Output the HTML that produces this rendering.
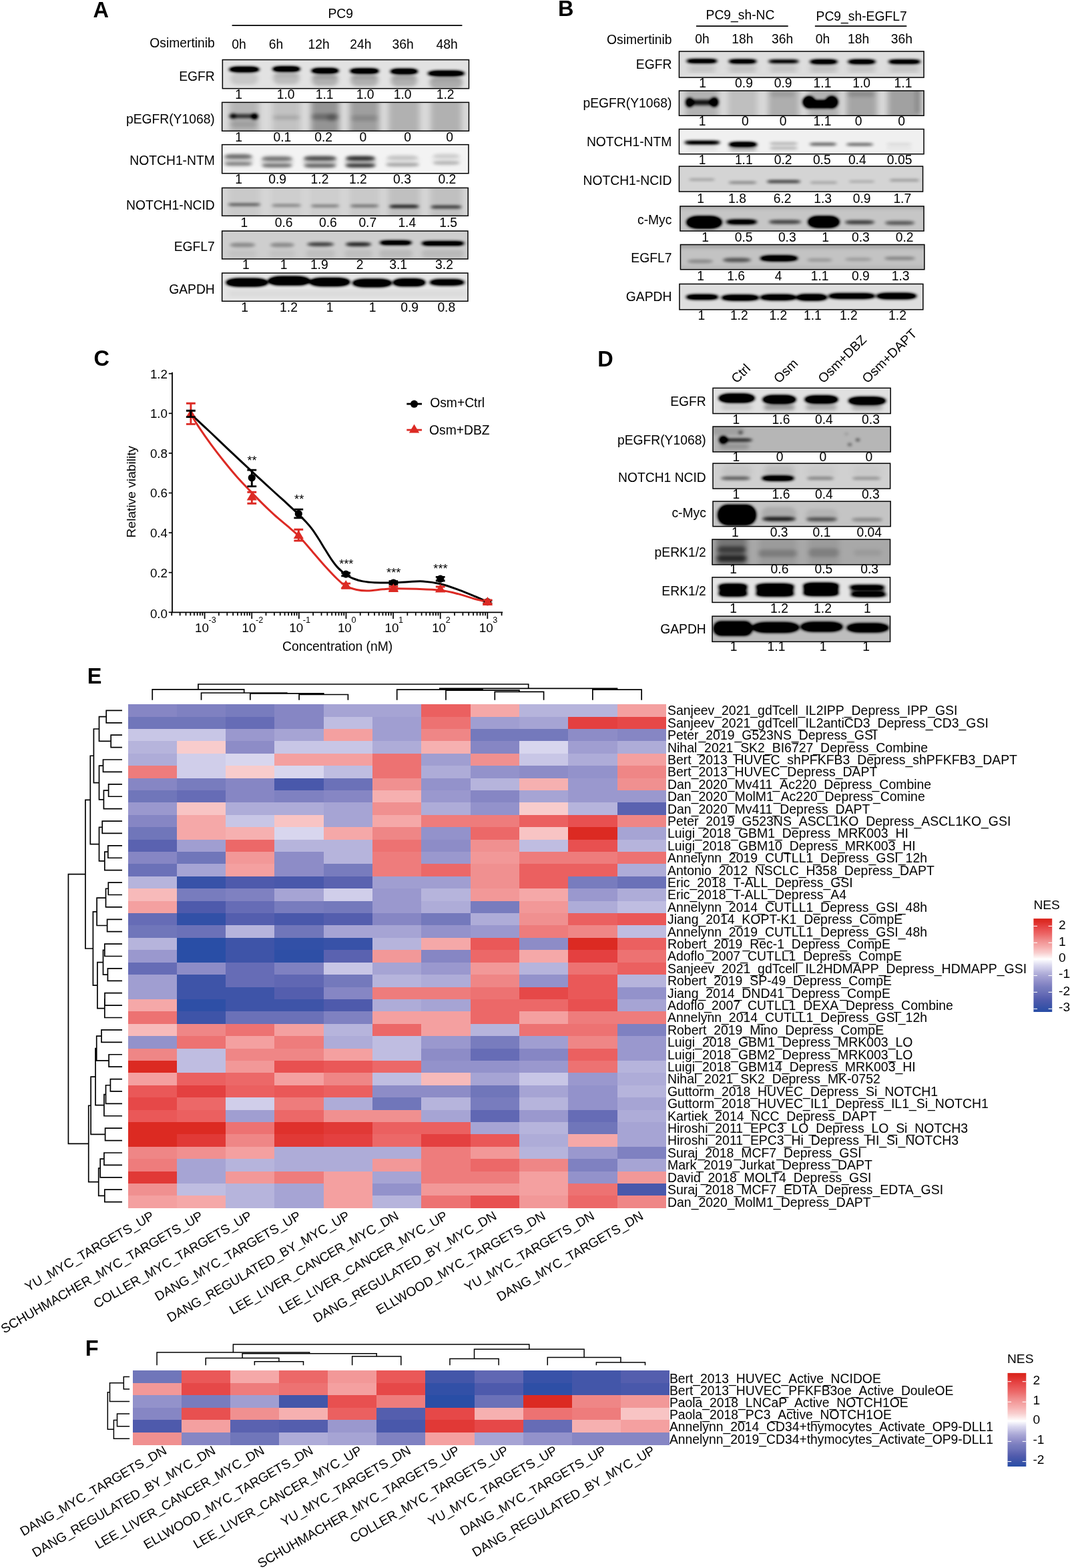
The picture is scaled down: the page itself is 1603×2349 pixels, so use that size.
<!DOCTYPE html>
<html lang="en"><head><meta charset="utf-8"><title>Figure</title>
<style>
html,body{margin:0;padding:0;background:#fff;}
body{width:1603px;height:2349px;overflow:hidden;}
svg{display:block;font-family:'Liberation Sans', sans-serif;fill:#000;}
</style></head>
<body>
<svg width="1603" height="2349" viewBox="0 0 1603 2349">
<rect width="1603" height="2349" fill="#fff"/>
<defs>
<filter id="bB" x="-20%" y="-60%" width="140%" height="220%"><feGaussianBlur stdDeviation="2.4 1.9"/><feComponentTransfer><feFuncA type="linear" slope="1.55"/></feComponentTransfer></filter>
<filter id="bM" x="-20%" y="-60%" width="140%" height="220%"><feGaussianBlur stdDeviation="3 2.4"/></filter>
<filter id="bS" x="-20%" y="-20%" width="140%" height="140%"><feGaussianBlur stdDeviation="4 4"/></filter>
</defs>
<text x="139.4" y="25.9" font-size="32.5" font-weight="bold">A</text>
<text x="510.2" y="27" font-size="19.3" text-anchor="middle">PC9</text>
<line x1="347.6" y1="38.2" x2="692.4" y2="38.2" stroke="#000" stroke-width="1.7"/>
<text x="321.8" y="71.1" font-size="19.3" text-anchor="end">Osimertinib</text>
<text x="358" y="73.3" font-size="19.3" text-anchor="middle">0h</text>
<text x="413.4" y="73.3" font-size="19.3" text-anchor="middle">6h</text>
<text x="477.6" y="73.3" font-size="19.3" text-anchor="middle">12h</text>
<text x="540.4" y="73.3" font-size="19.3" text-anchor="middle">24h</text>
<text x="603.7" y="73.3" font-size="19.3" text-anchor="middle">36h</text>
<text x="669.7" y="73.3" font-size="19.3" text-anchor="middle">48h</text>
<text x="321.8" y="120.6" font-size="19.3" text-anchor="end">EGFR</text>
<text x="321.8" y="184.6" font-size="19.3" text-anchor="end">pEGFR(Y1068)</text>
<text x="321.8" y="247.2" font-size="19.3" text-anchor="end">NOTCH1-NTM</text>
<text x="321.8" y="314.2" font-size="19.3" text-anchor="end">NOTCH1-NCID</text>
<text x="321.8" y="375.8" font-size="19.3" text-anchor="end">EGFL7</text>
<text x="321.8" y="440.4" font-size="19.3" text-anchor="end">GAPDH</text>
<clipPath id="c1"><rect x="333.35" y="89.55" width="369.1" height="43.1"/></clipPath>
<g clip-path="url(#c1)">
<rect x="333.35" y="89.55" width="369.1" height="43.1" fill="#e2e2e2"/>
<g filter="url(#bM)"><rect x="344.9" y="109" width="42" height="18" rx="9" ry="9" fill-opacity="0.12"/><rect x="409" y="108.4" width="40" height="18" rx="9" ry="9" fill-opacity="0.17"/><rect x="467" y="111" width="40" height="18" rx="9" ry="9" fill-opacity="0.22"/><rect x="525" y="111.4" width="42" height="18" rx="9" ry="9" fill-opacity="0.22"/><rect x="585.4" y="112" width="40" height="18" rx="9" ry="9" fill-opacity="0.22"/><rect x="643.4" y="115" width="50" height="18" rx="9" ry="9" fill-opacity="0.24"/><rect x="410" y="110.4" width="38" height="4" rx="2" ry="2" fill-opacity="0.1"/><rect x="468" y="113" width="38" height="4" rx="2" ry="2" fill-opacity="0.18"/><rect x="526" y="113.4" width="40" height="4" rx="2" ry="2" fill-opacity="0.18"/><rect x="586.4" y="114" width="38" height="4" rx="2" ry="2" fill-opacity="0.15"/><rect x="644.4" y="117" width="48" height="4" rx="2" ry="2" fill-opacity="0.1"/></g>
<g filter="url(#bB)"><rect x="343.15" y="100.35" width="45.5" height="7.3" rx="13.65" ry="3.65" fill-opacity="1"/><rect x="408.25" y="99.75" width="41.5" height="7.3" rx="12.45" ry="3.65" fill-opacity="1"/><rect x="466.25" y="102.35" width="41.5" height="7.3" rx="12.45" ry="3.65" fill-opacity="1"/><rect x="524.25" y="102.75" width="43.5" height="7.3" rx="13.05" ry="3.65" fill-opacity="1"/><rect x="584.65" y="103.35" width="41.5" height="7.3" rx="12.45" ry="3.65" fill-opacity="1"/><rect x="640.65" y="106.35" width="55.5" height="7.3" rx="16.06" ry="3.65" fill-opacity="1"/></g>
</g>
<rect x="333.35" y="89.55" width="369.1" height="43.1" fill="none" stroke="#000" stroke-width="1.5"/>
<text x="357.6" y="148.2" font-size="19.3" text-anchor="middle">1</text>
<text x="428.2" y="148.2" font-size="19.3" text-anchor="middle">1.0</text>
<text x="486.2" y="148.2" font-size="19.3" text-anchor="middle">1.1</text>
<text x="547.1" y="148.2" font-size="19.3" text-anchor="middle">1.0</text>
<text x="603.1" y="148.2" font-size="19.3" text-anchor="middle">1.0</text>
<text x="667.2" y="148.2" font-size="19.3" text-anchor="middle">1.2</text>
<clipPath id="c2"><rect x="332.65" y="153.35" width="369.8" height="42.9"/></clipPath>
<g clip-path="url(#c2)">
<rect x="332.65" y="153.35" width="369.8" height="42.9" fill="#dadada"/>
<g filter="url(#bS)"><rect x="343.9" y="115" width="44" height="120" rx="22" ry="22" fill-opacity="0.17"/><rect x="408" y="115" width="42" height="120" rx="21" ry="21" fill-opacity="0.11"/><rect x="466" y="115" width="42" height="120" rx="21" ry="21" fill-opacity="0.32"/><rect x="524" y="115" width="44" height="120" rx="22" ry="22" fill-opacity="0.27"/><rect x="582.4" y="115" width="46" height="120" rx="23" ry="23" fill-opacity="0.19"/><rect x="645.4" y="115" width="46" height="120" rx="23" ry="23" fill-opacity="0.19"/></g>
<g filter="url(#bM)"><rect x="345" y="181" width="40" height="10" rx="5" ry="5" fill-opacity="0.12"/><rect x="409" y="173" width="40" height="6" rx="3" ry="3" fill-opacity="0.14"/><rect x="467" y="170.5" width="40" height="9" rx="4.5" ry="4.5" fill-opacity="0.28"/><rect x="526" y="172.5" width="40" height="9" rx="4.5" ry="4.5" fill-opacity="0.14"/><rect x="490" y="170.5" width="14" height="11" rx="5.5" ry="5.5" fill-opacity="0.22"/></g>
<g filter="url(#bB)"><rect x="342.75" y="171.1" width="44.5" height="5.8" rx="12.76" ry="2.9" fill-opacity="0.5"/><circle cx="349" cy="174" r="4.4" fill-opacity="0.45"/><circle cx="381.5" cy="174.5" r="4.8" fill-opacity="0.7"/></g>
</g>
<rect x="332.65" y="153.35" width="369.8" height="42.9" fill="none" stroke="#000" stroke-width="1.5"/>
<text x="357.6" y="212" font-size="19.3" text-anchor="middle">1</text>
<text x="422.9" y="212" font-size="19.3" text-anchor="middle">0.1</text>
<text x="484.7" y="212" font-size="19.3" text-anchor="middle">0.2</text>
<text x="543.8" y="212" font-size="19.3" text-anchor="middle">0</text>
<text x="610.7" y="212" font-size="19.3" text-anchor="middle">0</text>
<text x="673.7" y="212" font-size="19.3" text-anchor="middle">0</text>
<clipPath id="c3"><rect x="332.65" y="216.65" width="369.3" height="43.1"/></clipPath>
<g clip-path="url(#c3)">
<rect x="332.65" y="216.65" width="369.3" height="43.1" fill="#f3f3f3"/>
<g filter="url(#bM)"><rect x="335" y="231" width="44" height="18" rx="9" ry="9" fill-opacity="0.14"/><rect x="391" y="233" width="48" height="18" rx="9" ry="9" fill-opacity="0.14"/><rect x="454.5" y="233" width="50" height="18" rx="9" ry="9" fill-opacity="0.18"/><rect x="517" y="233" width="46" height="18" rx="9" ry="9" fill-opacity="0.2"/><rect x="578" y="232" width="50" height="18" rx="9" ry="9" fill-opacity="0.05"/><rect x="646.7" y="230" width="44" height="18" rx="9" ry="9" fill-opacity="0.04"/></g>
<g filter="url(#bB)"><rect x="336.25" y="231.35" width="41.5" height="6.3" rx="12.45" ry="3.15" fill-opacity="0.32"/><rect x="392.25" y="234.65" width="45.5" height="6.3" rx="13.65" ry="3.15" fill-opacity="0.3"/><rect x="455.25" y="234.15" width="48.5" height="6.3" rx="13.86" ry="3.15" fill-opacity="0.42"/><rect x="518.25" y="234.15" width="43.5" height="6.3" rx="13.05" ry="3.15" fill-opacity="0.52"/><rect x="579.75" y="233.35" width="46.5" height="6.3" rx="13.86" ry="3.15" fill-opacity="0.1"/><rect x="648.45" y="230.85" width="40.5" height="6.3" rx="12.15" ry="3.15" fill-opacity="0.08"/><rect x="336.25" y="242.95" width="41.5" height="4.9" rx="10.78" ry="2.45" fill-opacity="0.28"/><rect x="392.25" y="245.55" width="45.5" height="4.9" rx="10.78" ry="2.45" fill-opacity="0.33"/><rect x="455.25" y="245.85" width="48.5" height="4.9" rx="10.78" ry="2.45" fill-opacity="0.37"/><rect x="517.25" y="245.55" width="45.5" height="4.9" rx="10.78" ry="2.45" fill-opacity="0.52"/><rect x="577.75" y="244.25" width="50.5" height="4.9" rx="10.78" ry="2.45" fill-opacity="0.2"/><rect x="648.45" y="241.55" width="40.5" height="4.9" rx="10.78" ry="2.45" fill-opacity="0.16"/></g>
</g>
<rect x="332.65" y="216.65" width="369.3" height="43.1" fill="none" stroke="#000" stroke-width="1.5"/>
<text x="357.6" y="275.1" font-size="19.3" text-anchor="middle">1</text>
<text x="415.6" y="275.1" font-size="19.3" text-anchor="middle">0.9</text>
<text x="479" y="275.1" font-size="19.3" text-anchor="middle">1.2</text>
<text x="536.4" y="275.1" font-size="19.3" text-anchor="middle">1.2</text>
<text x="602.5" y="275.1" font-size="19.3" text-anchor="middle">0.3</text>
<text x="669.8" y="275.1" font-size="19.3" text-anchor="middle">0.2</text>
<clipPath id="c4"><rect x="332.65" y="281.45" width="368.6" height="41.9"/></clipPath>
<g clip-path="url(#c4)">
<rect x="332.65" y="281.45" width="368.6" height="41.9" fill="#d6d6d6"/>
<g filter="url(#bS)"><rect x="341.9" y="242" width="48" height="120" rx="24" ry="24" fill-opacity="0.06"/><rect x="406" y="242" width="46" height="120" rx="23" ry="23" fill-opacity="0.04"/><rect x="464" y="242" width="46" height="120" rx="23" ry="23" fill-opacity="0.04"/><rect x="523" y="242" width="46" height="120" rx="23" ry="23" fill-opacity="0.06"/><rect x="581.4" y="242" width="48" height="120" rx="24" ry="24" fill-opacity="0.1"/><rect x="644.4" y="242" width="48" height="120" rx="24" ry="24" fill-opacity="0.1"/></g>
<g filter="url(#bB)"><rect x="341.65" y="304.9" width="48.5" height="3" rx="6.6" ry="1.5" fill-opacity="0.5"/><rect x="406.75" y="306.2" width="44.5" height="3" rx="6.6" ry="1.5" fill-opacity="0.33"/><rect x="465.75" y="306.9" width="42.5" height="3" rx="6.6" ry="1.5" fill-opacity="0.36"/><rect x="524.75" y="306.9" width="42.5" height="3" rx="6.6" ry="1.5" fill-opacity="0.4"/><rect x="583.15" y="307.5" width="44.5" height="3.4" rx="7.48" ry="1.7" fill-opacity="0.75"/><rect x="645.15" y="308.25" width="46.5" height="3.5" rx="7.7" ry="1.75" fill-opacity="0.62"/></g>
</g>
<rect x="332.65" y="281.45" width="368.6" height="41.9" fill="none" stroke="#000" stroke-width="1.5"/>
<text x="365.9" y="339.7" font-size="19.3" text-anchor="middle">1</text>
<text x="425.2" y="339.7" font-size="19.3" text-anchor="middle">0.6</text>
<text x="491.4" y="339.7" font-size="19.3" text-anchor="middle">0.6</text>
<text x="550.8" y="339.7" font-size="19.3" text-anchor="middle">0.7</text>
<text x="609.8" y="339.7" font-size="19.3" text-anchor="middle">1.4</text>
<text x="671.7" y="339.7" font-size="19.3" text-anchor="middle">1.5</text>
<clipPath id="c5"><rect x="332.65" y="346.05" width="368.3" height="41.9"/></clipPath>
<g clip-path="url(#c5)">
<rect x="332.65" y="346.05" width="368.3" height="41.9" fill="#cecece"/>
<g filter="url(#bM)"><rect x="341.4" y="374" width="44" height="12" rx="6" ry="6" fill-opacity="0.05"/><rect x="402.8" y="374" width="40" height="12" rx="6" ry="6" fill-opacity="0.05"/><rect x="458.2" y="374" width="44" height="12" rx="6" ry="6" fill-opacity="0.08"/><rect x="515.9" y="374" width="42" height="12" rx="6" ry="6" fill-opacity="0.08"/><rect x="567.9" y="374" width="50" height="12" rx="6" ry="6" fill-opacity="0.1"/><rect x="631.5" y="374" width="64" height="12" rx="6" ry="6" fill-opacity="0.1"/></g>
<g filter="url(#bB)"><rect x="344.15" y="363.85" width="38.5" height="6.3" rx="11.55" ry="3.15" fill-opacity="0.22"/><rect x="404.55" y="363.85" width="36.5" height="6.3" rx="10.95" ry="3.15" fill-opacity="0.22"/><rect x="459.95" y="363.35" width="40.5" height="5.3" rx="11.66" ry="2.65" fill-opacity="0.5"/><rect x="517.65" y="363.3" width="38.5" height="5.4" rx="11.55" ry="2.7" fill-opacity="0.6"/><rect x="568.65" y="360.7" width="48.5" height="5.8" rx="12.76" ry="2.9" fill-opacity="1"/><rect x="631.25" y="361.7" width="64.5" height="5.8" rx="12.76" ry="2.9" fill-opacity="1"/></g>
</g>
<rect x="332.65" y="346.05" width="368.3" height="41.9" fill="none" stroke="#000" stroke-width="1.5"/>
<text x="368.4" y="403.2" font-size="19.3" text-anchor="middle">1</text>
<text x="425.2" y="403.2" font-size="19.3" text-anchor="middle">1</text>
<text x="478.3" y="403.2" font-size="19.3" text-anchor="middle">1.9</text>
<text x="539" y="403.2" font-size="19.3" text-anchor="middle">2</text>
<text x="596.7" y="403.2" font-size="19.3" text-anchor="middle">3.1</text>
<text x="665.5" y="403.2" font-size="19.3" text-anchor="middle">3.2</text>
<clipPath id="c6"><rect x="332.65" y="409.05" width="368.3" height="42.2"/></clipPath>
<g clip-path="url(#c6)">
<rect x="332.65" y="409.05" width="368.3" height="42.2" fill="#e6e6e6"/>
<g filter="url(#bS)"><rect x="340" y="435" width="360" height="10" rx="5" ry="5" fill-opacity="0.06"/></g>
<g filter="url(#bB)"><rect x="338.75" y="417.3" width="62.5" height="11.8" rx="18.75" ry="5.9" fill-opacity="1"/><rect x="401.75" y="414.3" width="62.5" height="12.8" rx="18.75" ry="6.4" fill-opacity="1"/><rect x="463.75" y="416.6" width="60.5" height="11.8" rx="18.15" ry="5.9" fill-opacity="1"/><rect x="528.25" y="418.35" width="58.5" height="11.3" rx="17.55" ry="5.65" fill-opacity="1"/><rect x="588.75" y="417.8" width="48.5" height="10.8" rx="14.55" ry="5.4" fill-opacity="1"/><rect x="643.45" y="418.6" width="52.5" height="8.8" rx="15.75" ry="4.4" fill-opacity="0.9"/></g>
</g>
<rect x="332.65" y="409.05" width="368.3" height="42.2" fill="none" stroke="#000" stroke-width="1.5"/>
<text x="366.7" y="466.8" font-size="19.3" text-anchor="middle">1</text>
<text x="432.5" y="466.8" font-size="19.3" text-anchor="middle">1.2</text>
<text x="494" y="466.8" font-size="19.3" text-anchor="middle">1</text>
<text x="558.2" y="466.8" font-size="19.3" text-anchor="middle">1</text>
<text x="613.6" y="466.8" font-size="19.3" text-anchor="middle">0.9</text>
<text x="668.8" y="466.8" font-size="19.3" text-anchor="middle">0.8</text>
<text x="836" y="24" font-size="32.5" font-weight="bold">B</text>
<text x="1109" y="28.8" font-size="19.3" text-anchor="middle">PC9_sh-NC</text>
<text x="1290.6" y="30.8" font-size="19.3" text-anchor="middle">PC9_sh-EGFL7</text>
<line x1="1043" y1="39.2" x2="1180.7" y2="39.2" stroke="#000" stroke-width="1.7"/>
<line x1="1220.9" y1="39.2" x2="1358.3" y2="39.2" stroke="#000" stroke-width="1.7"/>
<text x="1006.6" y="65.8" font-size="19.3" text-anchor="end">Osimertinib</text>
<text x="1052" y="65" font-size="19.3" text-anchor="middle">0h</text>
<text x="1112.3" y="65" font-size="19.3" text-anchor="middle">18h</text>
<text x="1172.2" y="65" font-size="19.3" text-anchor="middle">36h</text>
<text x="1232.5" y="65" font-size="19.3" text-anchor="middle">0h</text>
<text x="1286.2" y="65" font-size="19.3" text-anchor="middle">18h</text>
<text x="1350.9" y="65" font-size="19.3" text-anchor="middle">36h</text>
<text x="1006.4" y="102.9" font-size="19.3" text-anchor="end">EGFR</text>
<text x="1006.4" y="160.9" font-size="19.3" text-anchor="end">pEGFR(Y1068)</text>
<text x="1006.4" y="219.4" font-size="19.3" text-anchor="end">NOTCH1-NTM</text>
<text x="1006.4" y="277.2" font-size="19.3" text-anchor="end">NOTCH1-NCID</text>
<text x="1006.4" y="336.4" font-size="19.3" text-anchor="end">c-Myc</text>
<text x="1006.4" y="393.2" font-size="19.3" text-anchor="end">EGFL7</text>
<text x="1006.4" y="451.2" font-size="19.3" text-anchor="end">GAPDH</text>
<clipPath id="c7"><rect x="1017.45" y="76.95" width="366.6" height="39.1"/></clipPath>
<g clip-path="url(#c7)">
<rect x="1017.45" y="76.95" width="366.6" height="39.1" fill="#dddddd"/>
<g filter="url(#bS)"><rect x="1030.5" y="98" width="42" height="10" rx="5" ry="5" fill-opacity="0.14"/><rect x="1091.6" y="98" width="42" height="10" rx="5" ry="5" fill-opacity="0.16"/><rect x="1153" y="98" width="42" height="10" rx="5" ry="5" fill-opacity="0.14"/><rect x="1213" y="98" width="42" height="10" rx="5" ry="5" fill-opacity="0.16"/><rect x="1270" y="98" width="42" height="10" rx="5" ry="5" fill-opacity="0.14"/><rect x="1332" y="98" width="46" height="10" rx="5" ry="5" fill-opacity="0.14"/></g>
<g filter="url(#bB)"><rect x="1028.25" y="88.8" width="46.5" height="5.4" rx="11.88" ry="2.7" fill-opacity="1"/><rect x="1091.35" y="89.3" width="42.5" height="5.4" rx="11.88" ry="2.7" fill-opacity="1"/><rect x="1150.75" y="89.8" width="46.5" height="4.4" rx="9.68" ry="2.2" fill-opacity="0.9"/><rect x="1212.75" y="89.6" width="42.5" height="5.8" rx="12.75" ry="2.9" fill-opacity="1"/><rect x="1269.75" y="89.6" width="42.5" height="5.8" rx="12.75" ry="2.9" fill-opacity="1"/><rect x="1330.75" y="89.8" width="48.5" height="5.4" rx="11.88" ry="2.7" fill-opacity="1"/></g>
</g>
<rect x="1017.45" y="76.95" width="366.6" height="39.1" fill="none" stroke="#000" stroke-width="1.5"/>
<text x="1052.5" y="130.6" font-size="19.3" text-anchor="middle">1</text>
<text x="1114.5" y="130.6" font-size="19.3" text-anchor="middle">0.9</text>
<text x="1173.1" y="130.6" font-size="19.3" text-anchor="middle">0.9</text>
<text x="1232" y="130.6" font-size="19.3" text-anchor="middle">1.1</text>
<text x="1290.7" y="130.6" font-size="19.3" text-anchor="middle">1.0</text>
<text x="1353" y="130.6" font-size="19.3" text-anchor="middle">1.1</text>
<clipPath id="c8"><rect x="1017.45" y="135.95" width="366.6" height="37.3"/></clipPath>
<g clip-path="url(#c8)">
<rect x="1017.45" y="135.95" width="366.6" height="37.3" fill="#d9d9d9"/>
<g filter="url(#bS)"><rect x="1026.5" y="95" width="50" height="120" rx="25" ry="25" fill-opacity="0.18"/><rect x="1090.6" y="95" width="44" height="120" rx="22" ry="22" fill-opacity="0.12"/><rect x="1151" y="95" width="46" height="120" rx="23" ry="23" fill-opacity="0.2"/><rect x="1211" y="95" width="46" height="120" rx="23" ry="23" fill-opacity="0.18"/><rect x="1268" y="95" width="46" height="120" rx="23" ry="23" fill-opacity="0.24"/><rect x="1330" y="95" width="50" height="120" rx="25" ry="25" fill-opacity="0.26"/></g>
<g filter="url(#bM)"><rect x="1270" y="137" width="40" height="8" rx="4" ry="4" fill-opacity="0.15"/><rect x="1371" y="130" width="8" height="40" rx="4" ry="4" fill-opacity="0.15"/><rect x="1154" y="137" width="36" height="8" rx="4" ry="4" fill-opacity="0.1"/></g>
<g filter="url(#bB)"><rect x="1029.25" y="149.6" width="44.5" height="7.8" rx="13.35" ry="3.9" fill-opacity="0.6"/><rect x="1027.75" y="146.6" width="10.5" height="13.8" rx="6" ry="6" fill-opacity="0.9"/><rect x="1064.25" y="146.1" width="11.5" height="13.8" rx="6" ry="6" fill-opacity="0.9"/><rect x="1209.75" y="150.6" width="38.5" height="8.8" rx="11.55" ry="4.4" fill-opacity="1"/><circle cx="1212" cy="153" r="9" fill-opacity="1"/><circle cx="1246" cy="153" r="9" fill-opacity="1"/><rect x="1206.75" y="155.6" width="44.5" height="5.8" rx="12.76" ry="2.9" fill-opacity="1"/></g>
</g>
<rect x="1017.45" y="135.95" width="366.6" height="37.3" fill="none" stroke="#000" stroke-width="1.5"/>
<text x="1052" y="187.8" font-size="19.3" text-anchor="middle">1</text>
<text x="1116.3" y="187.8" font-size="19.3" text-anchor="middle">0</text>
<text x="1173.1" y="187.8" font-size="19.3" text-anchor="middle">0</text>
<text x="1232" y="187.8" font-size="19.3" text-anchor="middle">1.1</text>
<text x="1286.2" y="187.8" font-size="19.3" text-anchor="middle">0</text>
<text x="1350.5" y="187.8" font-size="19.3" text-anchor="middle">0</text>
<clipPath id="c9"><rect x="1017.45" y="193.45" width="366.6" height="37.3"/></clipPath>
<g clip-path="url(#c9)">
<rect x="1017.45" y="193.45" width="366.6" height="37.3" fill="#f0f0f0"/>
<g filter="url(#bM)"><rect x="1093" y="220" width="40" height="6" rx="3" ry="3" fill-opacity="0.3"/><rect x="1030" y="219" width="44" height="6" rx="3" ry="3" fill-opacity="0.08"/></g>
<g filter="url(#bB)"><rect x="1025.25" y="211.15" width="53.5" height="4.9" rx="10.78" ry="2.45" fill-opacity="0.9"/><rect x="1091.75" y="213" width="42.5" height="6.8" rx="12.75" ry="3.4" fill-opacity="0.97"/><rect x="1152.75" y="213.5" width="42.5" height="3" rx="6.6" ry="1.5" fill-opacity="0.24"/><rect x="1152.75" y="220.5" width="42.5" height="3" rx="6.6" ry="1.5" fill-opacity="0.24"/><rect x="1212.75" y="214.3" width="40.5" height="3.4" rx="7.48" ry="1.7" fill-opacity="0.5"/><rect x="1267.75" y="214.7" width="40.5" height="3.4" rx="7.48" ry="1.7" fill-opacity="0.5"/><rect x="1327.75" y="214.5" width="38.5" height="3" rx="6.6" ry="1.5" fill-opacity="0.09"/><rect x="1327.75" y="221" width="38.5" height="2" rx="4.4" ry="1" fill-opacity="0.07"/></g>
</g>
<rect x="1017.45" y="193.45" width="366.6" height="37.3" fill="none" stroke="#000" stroke-width="1.5"/>
<text x="1052" y="246.1" font-size="19.3" text-anchor="middle">1</text>
<text x="1114.3" y="246.1" font-size="19.3" text-anchor="middle">1.1</text>
<text x="1173.1" y="246.1" font-size="19.3" text-anchor="middle">0.2</text>
<text x="1231.3" y="246.1" font-size="19.3" text-anchor="middle">0.5</text>
<text x="1284.3" y="246.1" font-size="19.3" text-anchor="middle">0.4</text>
<text x="1347.6" y="246.1" font-size="19.3" text-anchor="middle">0.05</text>
<clipPath id="c10"><rect x="1017.45" y="249.15" width="365.1" height="37.9"/></clipPath>
<g clip-path="url(#c10)">
<rect x="1017.45" y="249.15" width="365.1" height="37.9" fill="#d4d4d4"/>
<g filter="url(#bB)"><rect x="1032.25" y="267.75" width="38.5" height="2.5" rx="5.5" ry="1.25" fill-opacity="0.24"/><rect x="1091.35" y="272" width="42.5" height="3" rx="6.6" ry="1.5" fill-opacity="0.32"/><rect x="1148.75" y="270.25" width="50.5" height="3.5" rx="7.7" ry="1.75" fill-opacity="0.6"/><rect x="1213.75" y="272.25" width="40.5" height="2.5" rx="5.5" ry="1.25" fill-opacity="0.24"/><rect x="1271.75" y="270.75" width="38.5" height="2.5" rx="5.5" ry="1.25" fill-opacity="0.2"/><rect x="1332.75" y="268.75" width="44.5" height="2.5" rx="5.5" ry="1.25" fill-opacity="0.28"/></g>
</g>
<rect x="1017.45" y="249.15" width="365.1" height="37.9" fill="none" stroke="#000" stroke-width="1.5"/>
<text x="1049.5" y="303.8" font-size="19.3" text-anchor="middle">1</text>
<text x="1104.5" y="303.8" font-size="19.3" text-anchor="middle">1.8</text>
<text x="1172.2" y="303.8" font-size="19.3" text-anchor="middle">6.2</text>
<text x="1232.6" y="303.8" font-size="19.3" text-anchor="middle">1.3</text>
<text x="1291.1" y="303.8" font-size="19.3" text-anchor="middle">0.9</text>
<text x="1351.8" y="303.8" font-size="19.3" text-anchor="middle">1.7</text>
<clipPath id="c11"><rect x="1018.95" y="308.95" width="365.1" height="37.1"/></clipPath>
<g clip-path="url(#c11)">
<rect x="1018.95" y="308.95" width="365.1" height="37.1" fill="#c6c6c6"/>
<g filter="url(#bM)"><rect x="1010" y="305" width="380" height="8" rx="4" ry="4" fill-opacity="0.12"/></g>
<g filter="url(#bB)"><rect x="1028.75" y="324.1" width="52.5" height="17.8" rx="15.75" ry="8.9" fill-opacity="1"/><rect x="1087.75" y="329.1" width="46.5" height="6.8" rx="13.95" ry="3.4" fill-opacity="0.85"/><rect x="1151.75" y="329.8" width="48.5" height="5.4" rx="11.88" ry="2.7" fill-opacity="0.48"/><rect x="1210.75" y="324.1" width="46.5" height="16.8" rx="13.95" ry="8.4" fill-opacity="1"/><rect x="1265.75" y="330.3" width="44.5" height="5.4" rx="11.88" ry="2.7" fill-opacity="0.5"/><rect x="1325.75" y="331.3" width="44.5" height="5.4" rx="11.88" ry="2.7" fill-opacity="0.4"/></g>
</g>
<rect x="1018.95" y="308.95" width="365.1" height="37.1" fill="none" stroke="#000" stroke-width="1.5"/>
<text x="1056.6" y="361.8" font-size="19.3" text-anchor="middle">1</text>
<text x="1114.2" y="361.8" font-size="19.3" text-anchor="middle">0.5</text>
<text x="1179.3" y="361.8" font-size="19.3" text-anchor="middle">0.3</text>
<text x="1236.5" y="361.8" font-size="19.3" text-anchor="middle">1</text>
<text x="1289.4" y="361.8" font-size="19.3" text-anchor="middle">0.3</text>
<text x="1355.2" y="361.8" font-size="19.3" text-anchor="middle">0.2</text>
<clipPath id="c12"><rect x="1019.45" y="366.45" width="365.4" height="37.3"/></clipPath>
<g clip-path="url(#c12)">
<rect x="1019.45" y="366.45" width="365.4" height="37.3" fill="#c3c3c3"/>
<g filter="url(#bM)"><rect x="1010" y="362" width="380" height="10" rx="5" ry="5" fill-opacity="0.16"/><rect x="1010" y="399" width="380" height="6" rx="3" ry="3" fill-opacity="0.08"/></g>
<g filter="url(#bB)"><rect x="1029.75" y="388.8" width="38.5" height="5.4" rx="11.55" ry="2.7" fill-opacity="0.2"/><rect x="1082.75" y="386.6" width="42.5" height="5.8" rx="12.75" ry="2.9" fill-opacity="0.4"/><rect x="1138.75" y="383.1" width="56.5" height="7.8" rx="16.95" ry="3.9" fill-opacity="1"/><rect x="1208.75" y="387.3" width="38.5" height="4.4" rx="9.68" ry="2.2" fill-opacity="0.17"/><rect x="1265.75" y="386.3" width="40.5" height="4.4" rx="9.68" ry="2.2" fill-opacity="0.15"/><rect x="1324.75" y="384.8" width="46.5" height="4.4" rx="9.68" ry="2.2" fill-opacity="0.24"/></g>
</g>
<rect x="1019.45" y="366.45" width="365.4" height="37.3" fill="none" stroke="#000" stroke-width="1.5"/>
<text x="1049.5" y="419.9" font-size="19.3" text-anchor="middle">1</text>
<text x="1102.7" y="419.9" font-size="19.3" text-anchor="middle">1.6</text>
<text x="1166" y="419.9" font-size="19.3" text-anchor="middle">4</text>
<text x="1228.2" y="419.9" font-size="19.3" text-anchor="middle">1.1</text>
<text x="1289.4" y="419.9" font-size="19.3" text-anchor="middle">0.9</text>
<text x="1349.1" y="419.9" font-size="19.3" text-anchor="middle">1.3</text>
<clipPath id="c13"><rect x="1017.95" y="425.45" width="364.9" height="38.4"/></clipPath>
<g clip-path="url(#c13)">
<rect x="1017.95" y="425.45" width="364.9" height="38.4" fill="#dedede"/>
<g filter="url(#bB)"><rect x="1027.75" y="441.6" width="48.5" height="6.8" rx="14.55" ry="3.4" fill-opacity="1"/><rect x="1080.75" y="442.1" width="56.5" height="7.8" rx="16.95" ry="3.9" fill-opacity="1"/><rect x="1138.75" y="441.6" width="54.5" height="7.8" rx="16.35" ry="3.9" fill-opacity="1"/><rect x="1192.75" y="441.1" width="46.5" height="8.8" rx="13.95" ry="4.4" fill-opacity="1"/><rect x="1240.75" y="439.85" width="70.5" height="7.3" rx="16.06" ry="3.65" fill-opacity="1"/><rect x="1312.75" y="439.35" width="60.5" height="8.3" rx="18.15" ry="4.15" fill-opacity="1"/></g>
</g>
<rect x="1017.95" y="425.45" width="364.9" height="38.4" fill="none" stroke="#000" stroke-width="1.5"/>
<text x="1050.8" y="478.6" font-size="19.3" text-anchor="middle">1</text>
<text x="1107.3" y="478.6" font-size="19.3" text-anchor="middle">1.2</text>
<text x="1165.8" y="478.6" font-size="19.3" text-anchor="middle">1.2</text>
<text x="1217.4" y="478.6" font-size="19.3" text-anchor="middle">1.1</text>
<text x="1271.3" y="478.6" font-size="19.3" text-anchor="middle">1.2</text>
<text x="1344.5" y="478.6" font-size="19.3" text-anchor="middle">1.2</text>
<text x="895.2" y="549.4" font-size="32.5" font-weight="bold">D</text>
<text font-size="19.7" transform="translate(1103.5 575) rotate(-44.5)">Ctrl</text>
<text font-size="19.7" transform="translate(1167 575) rotate(-44.5)">Osm</text>
<text font-size="19.7" transform="translate(1233.5 575) rotate(-44.5)">Osm+DBZ</text>
<text font-size="19.7" transform="translate(1299.5 575) rotate(-44.5)">Osm+DAPT</text>
<text x="1057.8" y="608.3" font-size="19.3" text-anchor="end">EGFR</text>
<text x="1057.8" y="666" font-size="19.3" text-anchor="end">pEGFR(Y1068)</text>
<text x="1057.8" y="721.8" font-size="19.3" text-anchor="end">NOTCH1 NCID</text>
<text x="1057.8" y="775.2" font-size="19.3" text-anchor="end">c-Myc</text>
<text x="1057.8" y="833.5" font-size="19.3" text-anchor="end">pERK1/2</text>
<text x="1057.8" y="891.8" font-size="19.3" text-anchor="end">ERK1/2</text>
<text x="1057.8" y="948.6" font-size="19.3" text-anchor="end">GAPDH</text>
<clipPath id="c14"><rect x="1068.05" y="581.35" width="266.1" height="38.2"/></clipPath>
<g clip-path="url(#c14)">
<rect x="1068.05" y="581.35" width="266.1" height="38.2" fill="#e0e0e0"/>
<g filter="url(#bM)"><rect x="1080.7" y="605.5" width="46" height="9" rx="4.5" ry="4.5" fill-opacity="0.12"/><rect x="1144.5" y="605.5" width="46" height="9" rx="4.5" ry="4.5" fill-opacity="0.32"/><rect x="1207.5" y="605.5" width="46" height="9" rx="4.5" ry="4.5" fill-opacity="0.25"/><rect x="1276" y="605.5" width="46" height="9" rx="4.5" ry="4.5" fill-opacity="0.22"/></g>
<g filter="url(#bB)"><rect x="1076.95" y="590.1" width="53.5" height="12.8" rx="16.05" ry="6.4" fill-opacity="1"/><rect x="1142.75" y="592.35" width="49.5" height="12.3" rx="14.85" ry="6.15" fill-opacity="1"/><rect x="1205.75" y="592.85" width="49.5" height="11.3" rx="14.85" ry="5.65" fill-opacity="1"/><rect x="1271.25" y="594.85" width="55.5" height="11.3" rx="16.65" ry="5.65" fill-opacity="1"/></g>
</g>
<rect x="1068.05" y="581.35" width="266.1" height="38.2" fill="none" stroke="#000" stroke-width="1.5"/>
<text x="1102.9" y="634.5" font-size="19.3" text-anchor="middle">1</text>
<text x="1170" y="634.5" font-size="19.3" text-anchor="middle">1.6</text>
<text x="1234.4" y="634.5" font-size="19.3" text-anchor="middle">0.4</text>
<text x="1304.5" y="634.5" font-size="19.3" text-anchor="middle">0.3</text>
<clipPath id="c15"><rect x="1068.05" y="639.05" width="266.1" height="37.9"/></clipPath>
<g clip-path="url(#c15)">
<rect x="1068.05" y="639.05" width="266.1" height="37.9" fill="#b6b6b6"/>
<g filter="url(#bM)"><rect x="1065" y="638" width="50" height="14" rx="7" ry="7" fill-opacity="0.12"/><rect x="1078" y="665" width="44" height="8" rx="4" ry="4" fill-opacity="0.2"/></g>
<g filter="url(#bB)"><rect x="1080.75" y="657.1" width="46.5" height="4.4" rx="9.68" ry="2.2" fill-opacity="0.6"/><circle cx="1083.5" cy="659" r="6" fill-opacity="0.9"/><circle cx="1109.5" cy="648" r="2" fill-opacity="0.8"/><circle cx="1285" cy="659" r="2" fill-opacity="0.7"/><circle cx="1273" cy="666" r="2" fill-opacity="0.6"/><circle cx="1268" cy="650" r="1.5" fill-opacity="0.3"/></g>
</g>
<rect x="1068.05" y="639.05" width="266.1" height="37.9" fill="none" stroke="#000" stroke-width="1.5"/>
<text x="1102.9" y="691" font-size="19.3" text-anchor="middle">1</text>
<text x="1168.2" y="691" font-size="19.3" text-anchor="middle">0</text>
<text x="1232.8" y="691" font-size="19.3" text-anchor="middle">0</text>
<text x="1301.8" y="691" font-size="19.3" text-anchor="middle">0</text>
<clipPath id="c16"><rect x="1068.05" y="694.15" width="265.6" height="37.9"/></clipPath>
<g clip-path="url(#c16)">
<rect x="1068.05" y="694.15" width="265.6" height="37.9" fill="#d0d0d0"/>
<g filter="url(#bS)"><rect x="1080.7" y="696" width="46" height="20" rx="10" ry="10" fill-opacity="0.06"/><rect x="1144.5" y="696" width="46" height="20" rx="10" ry="10" fill-opacity="0.1"/><rect x="1207.5" y="696" width="46" height="20" rx="10" ry="10" fill-opacity="0.03"/><rect x="1276" y="696" width="46" height="20" rx="10" ry="10" fill-opacity="0.03"/></g>
<g filter="url(#bB)"><rect x="1079.75" y="714.3" width="44.5" height="4.4" rx="9.68" ry="2.2" fill-opacity="0.42"/><rect x="1141.25" y="713.1" width="48.5" height="6.8" rx="14.55" ry="3.4" fill-opacity="1"/><rect x="1208.75" y="714.55" width="40.5" height="3.9" rx="8.58" ry="1.95" fill-opacity="0.28"/><rect x="1276.75" y="714.8" width="42.5" height="3.4" rx="7.48" ry="1.7" fill-opacity="0.24"/></g>
</g>
<rect x="1068.05" y="694.15" width="265.6" height="37.9" fill="none" stroke="#000" stroke-width="1.5"/>
<text x="1102.9" y="746.6" font-size="19.3" text-anchor="middle">1</text>
<text x="1170" y="746.6" font-size="19.3" text-anchor="middle">1.6</text>
<text x="1234.4" y="746.6" font-size="19.3" text-anchor="middle">0.4</text>
<text x="1304.3" y="746.6" font-size="19.3" text-anchor="middle">0.3</text>
<clipPath id="c17"><rect x="1068.05" y="751.05" width="266.1" height="37.6"/></clipPath>
<g clip-path="url(#c17)">
<rect x="1068.05" y="751.05" width="266.1" height="37.6" fill="#c4c4c4"/>
<g filter="url(#bM)"><rect x="1141" y="759" width="52" height="22" rx="11" ry="11" fill-opacity="0.12"/><rect x="1207" y="762" width="48" height="20" rx="10" ry="10" fill-opacity="0.08"/></g>
<g filter="url(#bB)"><rect x="1075.75" y="756.6" width="56.5" height="29.8" rx="14" ry="14" fill-opacity="1"/><rect x="1141.75" y="774.85" width="50.5" height="5.3" rx="11.66" ry="2.65" fill-opacity="0.62"/><rect x="1207.75" y="775.3" width="46.5" height="5.4" rx="11.88" ry="2.7" fill-opacity="0.4"/><rect x="1275.75" y="775.8" width="46.5" height="5.4" rx="11.88" ry="2.7" fill-opacity="0.2"/></g>
</g>
<rect x="1068.05" y="751.05" width="266.1" height="37.6" fill="none" stroke="#000" stroke-width="1.5"/>
<text x="1101.3" y="803.6" font-size="19.3" text-anchor="middle">1</text>
<text x="1167.2" y="803.6" font-size="19.3" text-anchor="middle">0.3</text>
<text x="1231" y="803.6" font-size="19.3" text-anchor="middle">0.1</text>
<text x="1302.3" y="803.6" font-size="19.3" text-anchor="middle">0.04</text>
<clipPath id="c18"><rect x="1067.05" y="808.05" width="266.5" height="37.9"/></clipPath>
<g clip-path="url(#c18)">
<rect x="1067.05" y="808.05" width="266.5" height="37.9" fill="#a8a8a8"/>
<g filter="url(#bS)"><rect x="1073" y="784" width="46" height="90" rx="23" ry="23" fill-opacity="0.3"/><rect x="1137" y="784" width="56" height="90" rx="28" ry="28" fill-opacity="0.08"/><rect x="1211" y="784" width="46" height="90" rx="23" ry="23" fill-opacity="0.08"/></g>
<g filter="url(#bM)"><rect x="1075" y="818.5" width="42" height="10" rx="5" ry="5" fill-opacity="0.5"/><rect x="1074" y="831.5" width="44" height="10" rx="5" ry="5" fill-opacity="0.68"/><rect x="1136" y="823.5" width="58" height="11" rx="5.5" ry="5.5" fill-opacity="0.2"/><rect x="1211" y="821.5" width="46" height="13" rx="6.5" ry="6.5" fill-opacity="0.18"/><rect x="1279" y="823" width="42" height="10" rx="5" ry="5" fill-opacity="0.08"/></g>
</g>
<rect x="1067.05" y="808.05" width="266.5" height="37.9" fill="none" stroke="#000" stroke-width="1.5"/>
<text x="1098.5" y="859.4" font-size="19.3" text-anchor="middle">1</text>
<text x="1168" y="859.4" font-size="19.3" text-anchor="middle">0.6</text>
<text x="1233.9" y="859.4" font-size="19.3" text-anchor="middle">0.5</text>
<text x="1302.6" y="859.4" font-size="19.3" text-anchor="middle">0.3</text>
<clipPath id="c19"><rect x="1067.05" y="864.85" width="266.5" height="37.6"/></clipPath>
<g clip-path="url(#c19)">
<rect x="1067.05" y="864.85" width="266.5" height="37.6" fill="#e4e4e4"/>
<g filter="url(#bB)"><rect x="1076.75" y="877.6" width="42.5" height="12.8" rx="12.75" ry="6.4" fill-opacity="0.7"/><rect x="1132.75" y="877.6" width="56.5" height="12.8" rx="16.95" ry="6.4" fill-opacity="0.75"/><rect x="1203.75" y="876.6" width="52.5" height="12.8" rx="15.75" ry="6.4" fill-opacity="0.85"/><rect x="1273.75" y="879.6" width="52.5" height="10.8" rx="15.75" ry="5.4" fill-opacity="0.45"/><rect x="1076.25" y="874.85" width="43.5" height="7.3" rx="13.05" ry="3.65" fill-opacity="0.97"/><rect x="1076.25" y="886.4" width="43.5" height="6.8" rx="13.05" ry="3.4" fill-opacity="0.97"/><rect x="1132.25" y="874.6" width="57.5" height="7.8" rx="17.16" ry="3.9" fill-opacity="0.97"/><rect x="1132.25" y="886.4" width="57.5" height="6.8" rx="14.96" ry="3.4" fill-opacity="0.97"/><rect x="1203.25" y="873.35" width="53.5" height="8.3" rx="16.05" ry="4.15" fill-opacity="1"/><rect x="1203.25" y="885.15" width="53.5" height="7.3" rx="16.05" ry="3.65" fill-opacity="1"/><rect x="1272.25" y="876.6" width="53.5" height="5.8" rx="12.76" ry="2.9" fill-opacity="0.92"/><rect x="1274.25" y="887.65" width="53.5" height="6.3" rx="13.86" ry="3.15" fill-opacity="0.95"/></g>
</g>
<rect x="1067.05" y="864.85" width="266.5" height="37.6" fill="none" stroke="#000" stroke-width="1.5"/>
<text x="1098.5" y="917.7" font-size="19.3" text-anchor="middle">1</text>
<text x="1167.5" y="917.7" font-size="19.3" text-anchor="middle">1.2</text>
<text x="1232.5" y="917.7" font-size="19.3" text-anchor="middle">1.2</text>
<text x="1299.3" y="917.7" font-size="19.3" text-anchor="middle">1</text>
<clipPath id="c20"><rect x="1067.05" y="923.15" width="266.5" height="38.2"/></clipPath>
<g clip-path="url(#c20)">
<rect x="1067.05" y="923.15" width="266.5" height="38.2" fill="#bdbdbd"/>
<g filter="url(#bB)"><rect x="1069.25" y="931.1" width="57.5" height="20.8" rx="10" ry="10" fill-opacity="1"/><rect x="1126.75" y="932.6" width="70.5" height="14.8" rx="21.15" ry="7.4" fill-opacity="1"/><rect x="1199.75" y="932.1" width="62.5" height="13.8" rx="18.75" ry="6.9" fill-opacity="1"/><rect x="1268.75" y="934.1" width="62.5" height="12.8" rx="18.75" ry="6.4" fill-opacity="1"/></g>
</g>
<rect x="1067.05" y="923.15" width="266.5" height="38.2" fill="none" stroke="#000" stroke-width="1.5"/>
<text x="1099.1" y="975.4" font-size="19.3" text-anchor="middle">1</text>
<text x="1163" y="975.4" font-size="19.3" text-anchor="middle">1.1</text>
<text x="1233.1" y="975.4" font-size="19.3" text-anchor="middle">1</text>
<text x="1297.7" y="975.4" font-size="19.3" text-anchor="middle">1</text>
<text x="140.6" y="548.2" font-size="32.5" font-weight="bold">C</text>
<path d="M258 558.6V917.3H752.2" fill="none" stroke="#000" stroke-width="1.8" stroke-linecap="square"/>
<line x1="252.8" y1="917.3" x2="258" y2="917.3" stroke="#000" stroke-width="1.7"/>
<text x="251" y="925.5" font-size="18.8" text-anchor="end">0.0</text>
<line x1="252.8" y1="857.7" x2="258" y2="857.7" stroke="#000" stroke-width="1.7"/>
<text x="251" y="864.6" font-size="18.8" text-anchor="end">0.2</text>
<line x1="252.8" y1="798.1" x2="258" y2="798.1" stroke="#000" stroke-width="1.7"/>
<text x="251" y="805" font-size="18.8" text-anchor="end">0.4</text>
<line x1="252.8" y1="738.5" x2="258" y2="738.5" stroke="#000" stroke-width="1.7"/>
<text x="251" y="745.4" font-size="18.8" text-anchor="end">0.6</text>
<line x1="252.8" y1="678.9" x2="258" y2="678.9" stroke="#000" stroke-width="1.7"/>
<text x="251" y="685.8" font-size="18.8" text-anchor="end">0.8</text>
<line x1="252.8" y1="619.3" x2="258" y2="619.3" stroke="#000" stroke-width="1.7"/>
<text x="251" y="626.2" font-size="18.8" text-anchor="end">1.0</text>
<line x1="252.8" y1="559.7" x2="258" y2="559.7" stroke="#000" stroke-width="1.7"/>
<text x="251" y="566.6" font-size="18.8" text-anchor="end">1.2</text>
<path d="M257.24 917.3V922.3M269.67 917.3V922.3M278.5 917.3V922.3M285.34 917.3V922.3M290.93 917.3V922.3M295.66 917.3V922.3M299.76 917.3V922.3M303.37 917.3V922.3M306.6 917.3V926.9M327.86 917.3V922.3M340.29 917.3V922.3M349.12 917.3V922.3M355.96 917.3V922.3M361.55 917.3V922.3M366.28 917.3V922.3M370.38 917.3V922.3M373.99 917.3V922.3M377.22 917.3V926.9M398.48 917.3V922.3M410.91 917.3V922.3M419.74 917.3V922.3M426.58 917.3V922.3M432.17 917.3V922.3M436.9 917.3V922.3M441 917.3V922.3M444.61 917.3V922.3M447.84 917.3V926.9M469.1 917.3V922.3M481.53 917.3V922.3M490.36 917.3V922.3M497.2 917.3V922.3M502.79 917.3V922.3M507.52 917.3V922.3M511.62 917.3V922.3M515.23 917.3V922.3M518.46 917.3V926.9M539.72 917.3V922.3M552.15 917.3V922.3M560.98 917.3V922.3M567.82 917.3V922.3M573.41 917.3V922.3M578.14 917.3V922.3M582.24 917.3V922.3M585.85 917.3V922.3M589.08 917.3V926.9M610.34 917.3V922.3M622.77 917.3V922.3M631.6 917.3V922.3M638.44 917.3V922.3M644.03 917.3V922.3M648.76 917.3V922.3M652.86 917.3V922.3M656.47 917.3V922.3M659.7 917.3V926.9M680.96 917.3V922.3M693.39 917.3V922.3M702.22 917.3V922.3M709.06 917.3V922.3M714.65 917.3V922.3M719.38 917.3V922.3M723.48 917.3V922.3M727.09 917.3V922.3M730.32 917.3V926.9M751.58 917.3V922.3" stroke="#000" stroke-width="1.7" fill="none"/>
<text x="291.95" y="947.3" font-size="18.8">10</text>
<text x="312.45" y="933.2" font-size="12.6">-3</text>
<text x="362.57" y="947.3" font-size="18.8">10</text>
<text x="383.07" y="933.2" font-size="12.6">-2</text>
<text x="433.19" y="947.3" font-size="18.8">10</text>
<text x="453.69" y="933.2" font-size="12.6">-1</text>
<text x="505.9" y="947.3" font-size="18.8">10</text>
<text x="526.41" y="933.2" font-size="12.6">0</text>
<text x="576.52" y="947.3" font-size="18.8">10</text>
<text x="597.03" y="933.2" font-size="12.6">1</text>
<text x="647.14" y="947.3" font-size="18.8">10</text>
<text x="667.65" y="933.2" font-size="12.6">2</text>
<text x="717.76" y="947.3" font-size="18.8">10</text>
<text x="738.27" y="933.2" font-size="12.6">3</text>
<text x="505.6" y="974.6" font-size="19.3" text-anchor="middle">Concentration (nM)</text>
<text font-size="19.2" text-anchor="middle" transform="translate(203.4 736.6) rotate(-90)">Relative viability</text>
<path d="M285.9 620.3C291.03 625.08 306.83 639.7 316.7 649C326.57 658.3 335 666.55 345.1 676.1C355.2 685.65 366.27 696.07 377.3 706.3C388.33 716.53 402.48 729.45 411.3 737.5C420.12 745.55 424.2 749.08 430.2 754.6C436.2 760.12 442.57 766.03 447.3 770.6C452.03 775.17 455.13 778.22 458.6 782C462.07 785.78 464.95 789.05 468.1 793.3C471.25 797.55 474.35 802.55 477.5 807.5C480.65 812.45 483.85 817.95 487 823C490.15 828.05 493.25 833.28 496.4 837.8C499.55 842.32 502.27 846.25 505.9 850.1C509.53 853.95 514.42 858.17 518.2 860.9C521.98 863.63 524.35 864.83 528.6 866.5C532.85 868.17 538.32 869.87 543.7 870.9C549.08 871.93 553.28 872.35 560.9 872.7C568.52 873.05 581 873.17 589.4 873C597.8 872.83 603.87 872.03 611.3 871.7C618.73 871.37 625.93 870.48 634 871C642.07 871.52 650.87 872.7 659.7 874.8C668.53 876.9 678.25 880.45 687 883.6C695.75 886.75 704.97 890.68 712.2 893.7C719.43 896.72 727.37 900.37 730.4 901.7" fill="none" stroke="#000" stroke-width="3" stroke-linecap="round"/>
<path d="M285.9 620.3C287.88 623.52 292.67 631.88 297.8 639.6C302.93 647.32 310.38 658 316.7 666.6C323.02 675.2 329.38 683.32 335.7 691.2C342.02 699.08 348.3 706.75 354.6 713.9C360.9 721.05 367.2 727.48 373.5 734.1C379.8 740.72 386.1 747.35 392.4 753.6C398.7 759.85 405 765.92 411.3 771.6C417.6 777.28 424.2 782.5 430.2 787.7C436.2 792.9 440.98 796.35 447.3 802.8C453.62 809.25 461.48 818.83 468.1 826.4C474.72 833.97 480.7 841.27 487 848.2C493.3 855.13 500.7 863.05 505.9 868C511.1 872.95 513.47 875.32 518.2 877.9C522.93 880.48 528.87 882.32 534.3 883.5C539.73 884.68 544.27 885.12 550.8 885C557.33 884.88 567.07 883.33 573.5 882.8C579.93 882.27 581 881.88 589.4 881.8C597.8 881.72 612.18 881.88 623.9 882.3C635.62 882.72 649.18 883.03 659.7 884.3C670.22 885.57 678.25 887.7 687 889.9C695.75 892.1 704.97 895.53 712.2 897.5C719.43 899.47 727.37 901 730.4 901.7" fill="none" stroke="#dc2a24" stroke-width="3" stroke-linecap="round"/>
<path d="M370.4 704.1H384.2M370.4 728.6H384.2M377.3 704.1V728.6" stroke="#000" stroke-width="2.9" fill="none"/>
<circle cx="377.3" cy="715.8" r="5.6"/>
<path d="M440.4 763.1H454.2M440.4 775.9H454.2M447.3 763.1V775.9" stroke="#000" stroke-width="2.9" fill="none"/>
<circle cx="447.3" cy="769.7" r="5.6"/>
<path d="M511.3 858.2H525.1M511.3 862.7H525.1M518.2 858.2V862.7" stroke="#000" stroke-width="2.9" fill="none"/>
<circle cx="518.2" cy="860.1" r="5.6"/>
<path d="M582.5 870.8H596.3M582.5 875.2H596.3M589.4 870.8V875.2" stroke="#000" stroke-width="2.9" fill="none"/>
<circle cx="589.4" cy="873" r="5.6"/>
<path d="M652.8 864.4H666.6M652.8 870H666.6M659.7 864.4V870" stroke="#000" stroke-width="2.9" fill="none"/>
<circle cx="659.7" cy="867.2" r="5.6"/>
<path d="M723.5 899.5H737.3M723.5 903.9H737.3M730.4 899.5V903.9" stroke="#000" stroke-width="2.9" fill="none"/>
<circle cx="730.4" cy="901.7" r="5.6"/>
<path d="M279 604.2H292.8M279 635.4H292.8M285.9 604.2V635.4" stroke="#dc2a24" stroke-width="2.9" fill="none"/>
<path d="M285.9 612.7L293.5 625.5H278.3Z" fill="#dc2a24"/>
<path d="M370.4 737.2H384.2M370.4 754.2H384.2M377.3 737.2V754.2" stroke="#dc2a24" stroke-width="2.9" fill="none"/>
<path d="M377.3 736.8L384.9 749.6H369.7Z" fill="#dc2a24"/>
<path d="M440.4 793.3H454.2M440.4 810H454.2M447.3 793.3V810" stroke="#dc2a24" stroke-width="2.9" fill="none"/>
<path d="M447.3 794.2L454.9 807H439.7Z" fill="#dc2a24"/>
<path d="M511.3 874.1H525.1M511.3 881.3H525.1M518.2 874.1V881.3" stroke="#dc2a24" stroke-width="2.9" fill="none"/>
<path d="M518.2 868.9L525.8 881.7H510.6Z" fill="#dc2a24"/>
<path d="M582.5 878.8H596.3M582.5 884.8H596.3M589.4 878.8V884.8" stroke="#dc2a24" stroke-width="2.9" fill="none"/>
<path d="M589.4 874.2L597 887H581.8Z" fill="#dc2a24"/>
<path d="M652.8 879H666.6M652.8 885.6H666.6M659.7 879V885.6" stroke="#dc2a24" stroke-width="2.9" fill="none"/>
<path d="M659.7 874.7L667.3 887.5H652.1Z" fill="#dc2a24"/>
<path d="M723.5 899H737.3M723.5 904.5H737.3M730.4 899V904.5" stroke="#dc2a24" stroke-width="2.9" fill="none"/>
<path d="M730.4 894.1L738 906.9H722.8Z" fill="#dc2a24"/>
<path d="M279 615.2H292.8M279 624.6H292.8M285.9 615.2V624.6" stroke="#000" stroke-width="2.9" fill="none"/>
<text x="377.6" y="695.9" font-size="18.3" text-anchor="middle">**</text>
<text x="448.2" y="754" font-size="18.3" text-anchor="middle">**</text>
<text x="518.8" y="850.9" font-size="18.3" text-anchor="middle">***</text>
<text x="589.7" y="864.2" font-size="18.3" text-anchor="middle">***</text>
<text x="660" y="857.7" font-size="18.3" text-anchor="middle">***</text>
<line x1="609.3" y1="605.1" x2="632" y2="605.1" stroke="#000" stroke-width="2.8"/>
<circle cx="620.5" cy="605.2" r="5.6"/>
<text x="644.2" y="609.6" font-size="19.3">Osm+Ctrl</text>
<line x1="609.3" y1="644.1" x2="632" y2="644.1" stroke="#dc2a24" stroke-width="2.8"/>
<path d="M620.5 635.6L628.2 648.6H612.8Z" fill="#dc2a24"/>
<text x="643" y="650.7" font-size="19.3">Osm+DBZ</text>
<g shape-rendering="crispEdges">
<rect x="191.6" y="1055.2" width="73.59" height="18.7" fill="#8686c4"/>
<rect x="264.89" y="1055.2" width="73.59" height="18.7" fill="#7f81c1"/>
<rect x="338.18" y="1055.2" width="73.59" height="18.7" fill="#787cbe"/>
<rect x="411.47" y="1055.2" width="73.59" height="18.7" fill="#8686c4"/>
<rect x="484.76" y="1055.2" width="73.59" height="18.7" fill="#a6a4d4"/>
<rect x="558.05" y="1055.2" width="73.59" height="18.7" fill="#a6a4d4"/>
<rect x="631.35" y="1055.2" width="73.59" height="18.7" fill="#eb6060"/>
<rect x="704.64" y="1055.2" width="73.59" height="18.7" fill="#f5a8a8"/>
<rect x="777.93" y="1055.2" width="73.59" height="18.7" fill="#b6b4dc"/>
<rect x="851.22" y="1055.2" width="73.59" height="18.7" fill="#b6b4dc"/>
<rect x="924.51" y="1055.2" width="73.59" height="18.7" fill="#f4a0a0"/>
<rect x="191.6" y="1073.6" width="73.59" height="18.7" fill="#7076ba"/>
<rect x="264.89" y="1073.6" width="73.59" height="18.7" fill="#7076ba"/>
<rect x="338.18" y="1073.6" width="73.59" height="18.7" fill="#666cb6"/>
<rect x="411.47" y="1073.6" width="73.59" height="18.7" fill="#8686c4"/>
<rect x="484.76" y="1073.6" width="73.59" height="18.7" fill="#bfbde1"/>
<rect x="558.05" y="1073.6" width="73.59" height="18.7" fill="#a09ed1"/>
<rect x="631.35" y="1073.6" width="73.59" height="18.7" fill="#ed7272"/>
<rect x="704.64" y="1073.6" width="73.59" height="18.7" fill="#a09ed1"/>
<rect x="777.93" y="1073.6" width="73.59" height="18.7" fill="#a6a4d4"/>
<rect x="851.22" y="1073.6" width="73.59" height="18.7" fill="#e44040"/>
<rect x="924.51" y="1073.6" width="73.59" height="18.7" fill="#e64848"/>
<rect x="191.6" y="1092.01" width="73.59" height="18.7" fill="#c8c6e6"/>
<rect x="264.89" y="1092.01" width="73.59" height="18.7" fill="#c8c6e6"/>
<rect x="338.18" y="1092.01" width="73.59" height="18.7" fill="#9a98ce"/>
<rect x="411.47" y="1092.01" width="73.59" height="18.7" fill="#a6a4d4"/>
<rect x="484.76" y="1092.01" width="73.59" height="18.7" fill="#f4a0a0"/>
<rect x="558.05" y="1092.01" width="73.59" height="18.7" fill="#a09ed1"/>
<rect x="631.35" y="1092.01" width="73.59" height="18.7" fill="#ef8686"/>
<rect x="704.64" y="1092.01" width="73.59" height="18.7" fill="#7479bc"/>
<rect x="777.93" y="1092.01" width="73.59" height="18.7" fill="#7479bc"/>
<rect x="851.22" y="1092.01" width="73.59" height="18.7" fill="#8d8cc7"/>
<rect x="924.51" y="1092.01" width="73.59" height="18.7" fill="#8686c4"/>
<rect x="191.6" y="1110.41" width="73.59" height="18.7" fill="#b6b4dc"/>
<rect x="264.89" y="1110.41" width="73.59" height="18.7" fill="#f8cccc"/>
<rect x="338.18" y="1110.41" width="73.59" height="18.7" fill="#8d8cc7"/>
<rect x="411.47" y="1110.41" width="73.59" height="18.7" fill="#c8c6e6"/>
<rect x="484.76" y="1110.41" width="73.59" height="18.7" fill="#c8c6e6"/>
<rect x="558.05" y="1110.41" width="73.59" height="18.7" fill="#aeacd8"/>
<rect x="631.35" y="1110.41" width="73.59" height="18.7" fill="#f6b0b0"/>
<rect x="704.64" y="1110.41" width="73.59" height="18.7" fill="#8686c4"/>
<rect x="777.93" y="1110.41" width="73.59" height="18.7" fill="#d8d6ee"/>
<rect x="851.22" y="1110.41" width="73.59" height="18.7" fill="#a09ed1"/>
<rect x="924.51" y="1110.41" width="73.59" height="18.7" fill="#aeacd8"/>
<rect x="191.6" y="1128.82" width="73.59" height="18.7" fill="#aeacd8"/>
<rect x="264.89" y="1128.82" width="73.59" height="18.7" fill="#d0ceea"/>
<rect x="338.18" y="1128.82" width="73.59" height="18.7" fill="#d8d6ee"/>
<rect x="411.47" y="1128.82" width="73.59" height="18.7" fill="#f4a0a0"/>
<rect x="484.76" y="1128.82" width="73.59" height="18.7" fill="#f4a0a0"/>
<rect x="558.05" y="1128.82" width="73.59" height="18.7" fill="#ed7272"/>
<rect x="631.35" y="1128.82" width="73.59" height="18.7" fill="#a09ed1"/>
<rect x="704.64" y="1128.82" width="73.59" height="18.7" fill="#f09090"/>
<rect x="777.93" y="1128.82" width="73.59" height="18.7" fill="#c8c6e6"/>
<rect x="851.22" y="1128.82" width="73.59" height="18.7" fill="#aeacd8"/>
<rect x="924.51" y="1128.82" width="73.59" height="18.7" fill="#f4a0a0"/>
<rect x="191.6" y="1147.22" width="73.59" height="18.7" fill="#ee7c7c"/>
<rect x="264.89" y="1147.22" width="73.59" height="18.7" fill="#d0ceea"/>
<rect x="338.18" y="1147.22" width="73.59" height="18.7" fill="#f8cccc"/>
<rect x="411.47" y="1147.22" width="73.59" height="18.7" fill="#d8d6ee"/>
<rect x="484.76" y="1147.22" width="73.59" height="18.7" fill="#bfbde1"/>
<rect x="558.05" y="1147.22" width="73.59" height="18.7" fill="#ed7272"/>
<rect x="631.35" y="1147.22" width="73.59" height="18.7" fill="#aeacd8"/>
<rect x="704.64" y="1147.22" width="73.59" height="18.7" fill="#9392cb"/>
<rect x="777.93" y="1147.22" width="73.59" height="18.7" fill="#8d8cc7"/>
<rect x="851.22" y="1147.22" width="73.59" height="18.7" fill="#9392cb"/>
<rect x="924.51" y="1147.22" width="73.59" height="18.7" fill="#ef8686"/>
<rect x="191.6" y="1165.63" width="73.59" height="18.7" fill="#8686c4"/>
<rect x="264.89" y="1165.63" width="73.59" height="18.7" fill="#787cbe"/>
<rect x="338.18" y="1165.63" width="73.59" height="18.7" fill="#8686c4"/>
<rect x="411.47" y="1165.63" width="73.59" height="18.7" fill="#4958ab"/>
<rect x="484.76" y="1165.63" width="73.59" height="18.7" fill="#6b71b8"/>
<rect x="558.05" y="1165.63" width="73.59" height="18.7" fill="#f09090"/>
<rect x="631.35" y="1165.63" width="73.59" height="18.7" fill="#9392cb"/>
<rect x="704.64" y="1165.63" width="73.59" height="18.7" fill="#b6b4dc"/>
<rect x="777.93" y="1165.63" width="73.59" height="18.7" fill="#f6b0b0"/>
<rect x="851.22" y="1165.63" width="73.59" height="18.7" fill="#9a98ce"/>
<rect x="924.51" y="1165.63" width="73.59" height="18.7" fill="#f09090"/>
<rect x="191.6" y="1184.03" width="73.59" height="18.7" fill="#7076ba"/>
<rect x="264.89" y="1184.03" width="73.59" height="18.7" fill="#666cb6"/>
<rect x="338.18" y="1184.03" width="73.59" height="18.7" fill="#8686c4"/>
<rect x="411.47" y="1184.03" width="73.59" height="18.7" fill="#7f81c1"/>
<rect x="484.76" y="1184.03" width="73.59" height="18.7" fill="#8686c4"/>
<rect x="558.05" y="1184.03" width="73.59" height="18.7" fill="#f6b0b0"/>
<rect x="631.35" y="1184.03" width="73.59" height="18.7" fill="#9a98ce"/>
<rect x="704.64" y="1184.03" width="73.59" height="18.7" fill="#8686c4"/>
<rect x="777.93" y="1184.03" width="73.59" height="18.7" fill="#a6a4d4"/>
<rect x="851.22" y="1184.03" width="73.59" height="18.7" fill="#9a98ce"/>
<rect x="924.51" y="1184.03" width="73.59" height="18.7" fill="#9a98ce"/>
<rect x="191.6" y="1202.44" width="73.59" height="18.7" fill="#9a98ce"/>
<rect x="264.89" y="1202.44" width="73.59" height="18.7" fill="#f8c4c4"/>
<rect x="338.18" y="1202.44" width="73.59" height="18.7" fill="#aeacd8"/>
<rect x="411.47" y="1202.44" width="73.59" height="18.7" fill="#aeacd8"/>
<rect x="484.76" y="1202.44" width="73.59" height="18.7" fill="#a6a4d4"/>
<rect x="558.05" y="1202.44" width="73.59" height="18.7" fill="#f09090"/>
<rect x="631.35" y="1202.44" width="73.59" height="18.7" fill="#aeacd8"/>
<rect x="704.64" y="1202.44" width="73.59" height="18.7" fill="#9392cb"/>
<rect x="777.93" y="1202.44" width="73.59" height="18.7" fill="#f8cccc"/>
<rect x="851.22" y="1202.44" width="73.59" height="18.7" fill="#b6b4dc"/>
<rect x="924.51" y="1202.44" width="73.59" height="18.7" fill="#5a62b0"/>
<rect x="191.6" y="1220.84" width="73.59" height="18.7" fill="#8686c4"/>
<rect x="264.89" y="1220.84" width="73.59" height="18.7" fill="#f5a8a8"/>
<rect x="338.18" y="1220.84" width="73.59" height="18.7" fill="#c8c6e6"/>
<rect x="411.47" y="1220.84" width="73.59" height="18.7" fill="#f8c4c4"/>
<rect x="484.76" y="1220.84" width="73.59" height="18.7" fill="#a6a4d4"/>
<rect x="558.05" y="1220.84" width="73.59" height="18.7" fill="#f5a8a8"/>
<rect x="631.35" y="1220.84" width="73.59" height="18.7" fill="#ee7c7c"/>
<rect x="704.64" y="1220.84" width="73.59" height="18.7" fill="#ee7c7c"/>
<rect x="777.93" y="1220.84" width="73.59" height="18.7" fill="#eb6060"/>
<rect x="851.22" y="1220.84" width="73.59" height="18.7" fill="#e85050"/>
<rect x="924.51" y="1220.84" width="73.59" height="18.7" fill="#ef8686"/>
<rect x="191.6" y="1239.25" width="73.59" height="18.7" fill="#7076ba"/>
<rect x="264.89" y="1239.25" width="73.59" height="18.7" fill="#f5a8a8"/>
<rect x="338.18" y="1239.25" width="73.59" height="18.7" fill="#f6b0b0"/>
<rect x="411.47" y="1239.25" width="73.59" height="18.7" fill="#d8d6ee"/>
<rect x="484.76" y="1239.25" width="73.59" height="18.7" fill="#f5a8a8"/>
<rect x="558.05" y="1239.25" width="73.59" height="18.7" fill="#ef8686"/>
<rect x="631.35" y="1239.25" width="73.59" height="18.7" fill="#9392cb"/>
<rect x="704.64" y="1239.25" width="73.59" height="18.7" fill="#ec6868"/>
<rect x="777.93" y="1239.25" width="73.59" height="18.7" fill="#f8c4c4"/>
<rect x="851.22" y="1239.25" width="73.59" height="18.7" fill="#dc2a22"/>
<rect x="924.51" y="1239.25" width="73.59" height="18.7" fill="#a6a4d4"/>
<rect x="191.6" y="1257.65" width="73.59" height="18.7" fill="#5a62b0"/>
<rect x="264.89" y="1257.65" width="73.59" height="18.7" fill="#a09ed1"/>
<rect x="338.18" y="1257.65" width="73.59" height="18.7" fill="#ec6868"/>
<rect x="411.47" y="1257.65" width="73.59" height="18.7" fill="#b6b4dc"/>
<rect x="484.76" y="1257.65" width="73.59" height="18.7" fill="#b6b4dc"/>
<rect x="558.05" y="1257.65" width="73.59" height="18.7" fill="#ed7272"/>
<rect x="631.35" y="1257.65" width="73.59" height="18.7" fill="#8d8cc7"/>
<rect x="704.64" y="1257.65" width="73.59" height="18.7" fill="#f09090"/>
<rect x="777.93" y="1257.65" width="73.59" height="18.7" fill="#bfbde1"/>
<rect x="851.22" y="1257.65" width="73.59" height="18.7" fill="#e85050"/>
<rect x="924.51" y="1257.65" width="73.59" height="18.7" fill="#b6b4dc"/>
<rect x="191.6" y="1276.06" width="73.59" height="18.7" fill="#8686c4"/>
<rect x="264.89" y="1276.06" width="73.59" height="18.7" fill="#7076ba"/>
<rect x="338.18" y="1276.06" width="73.59" height="18.7" fill="#f29898"/>
<rect x="411.47" y="1276.06" width="73.59" height="18.7" fill="#8d8cc7"/>
<rect x="484.76" y="1276.06" width="73.59" height="18.7" fill="#b6b4dc"/>
<rect x="558.05" y="1276.06" width="73.59" height="18.7" fill="#ee7c7c"/>
<rect x="631.35" y="1276.06" width="73.59" height="18.7" fill="#9a98ce"/>
<rect x="704.64" y="1276.06" width="73.59" height="18.7" fill="#f29898"/>
<rect x="777.93" y="1276.06" width="73.59" height="18.7" fill="#ee7c7c"/>
<rect x="851.22" y="1276.06" width="73.59" height="18.7" fill="#ee7c7c"/>
<rect x="924.51" y="1276.06" width="73.59" height="18.7" fill="#ed7272"/>
<rect x="191.6" y="1294.46" width="73.59" height="18.7" fill="#6b71b8"/>
<rect x="264.89" y="1294.46" width="73.59" height="18.7" fill="#a6a4d4"/>
<rect x="338.18" y="1294.46" width="73.59" height="18.7" fill="#f4a0a0"/>
<rect x="411.47" y="1294.46" width="73.59" height="18.7" fill="#8d8cc7"/>
<rect x="484.76" y="1294.46" width="73.59" height="18.7" fill="#787cbe"/>
<rect x="558.05" y="1294.46" width="73.59" height="18.7" fill="#ee7c7c"/>
<rect x="631.35" y="1294.46" width="73.59" height="18.7" fill="#ec6868"/>
<rect x="704.64" y="1294.46" width="73.59" height="18.7" fill="#f09090"/>
<rect x="777.93" y="1294.46" width="73.59" height="18.7" fill="#eb6060"/>
<rect x="851.22" y="1294.46" width="73.59" height="18.7" fill="#eb6060"/>
<rect x="924.51" y="1294.46" width="73.59" height="18.7" fill="#aeacd8"/>
<rect x="191.6" y="1312.87" width="73.59" height="18.7" fill="#b6b4dc"/>
<rect x="264.89" y="1312.87" width="73.59" height="18.7" fill="#3852a8"/>
<rect x="338.18" y="1312.87" width="73.59" height="18.7" fill="#4e5aac"/>
<rect x="411.47" y="1312.87" width="73.59" height="18.7" fill="#4958ab"/>
<rect x="484.76" y="1312.87" width="73.59" height="18.7" fill="#5a62b0"/>
<rect x="558.05" y="1312.87" width="73.59" height="18.7" fill="#a09ed1"/>
<rect x="631.35" y="1312.87" width="73.59" height="18.7" fill="#a09ed1"/>
<rect x="704.64" y="1312.87" width="73.59" height="18.7" fill="#f09090"/>
<rect x="777.93" y="1312.87" width="73.59" height="18.7" fill="#eb6060"/>
<rect x="851.22" y="1312.87" width="73.59" height="18.7" fill="#787cbe"/>
<rect x="924.51" y="1312.87" width="73.59" height="18.7" fill="#6b71b8"/>
<rect x="191.6" y="1331.27" width="73.59" height="18.7" fill="#f7baba"/>
<rect x="264.89" y="1331.27" width="73.59" height="18.7" fill="#787cbe"/>
<rect x="338.18" y="1331.27" width="73.59" height="18.7" fill="#7f81c1"/>
<rect x="411.47" y="1331.27" width="73.59" height="18.7" fill="#a6a4d4"/>
<rect x="484.76" y="1331.27" width="73.59" height="18.7" fill="#d0ceea"/>
<rect x="558.05" y="1331.27" width="73.59" height="18.7" fill="#9a98ce"/>
<rect x="631.35" y="1331.27" width="73.59" height="18.7" fill="#b6b4dc"/>
<rect x="704.64" y="1331.27" width="73.59" height="18.7" fill="#f29898"/>
<rect x="777.93" y="1331.27" width="73.59" height="18.7" fill="#f5a8a8"/>
<rect x="851.22" y="1331.27" width="73.59" height="18.7" fill="#9a98ce"/>
<rect x="924.51" y="1331.27" width="73.59" height="18.7" fill="#aeacd8"/>
<rect x="191.6" y="1349.68" width="73.59" height="18.7" fill="#f4a0a0"/>
<rect x="264.89" y="1349.68" width="73.59" height="18.7" fill="#4e5aac"/>
<rect x="338.18" y="1349.68" width="73.59" height="18.7" fill="#666cb6"/>
<rect x="411.47" y="1349.68" width="73.59" height="18.7" fill="#787cbe"/>
<rect x="484.76" y="1349.68" width="73.59" height="18.7" fill="#7479bc"/>
<rect x="558.05" y="1349.68" width="73.59" height="18.7" fill="#9a98ce"/>
<rect x="631.35" y="1349.68" width="73.59" height="18.7" fill="#aeacd8"/>
<rect x="704.64" y="1349.68" width="73.59" height="18.7" fill="#787cbe"/>
<rect x="777.93" y="1349.68" width="73.59" height="18.7" fill="#f29898"/>
<rect x="851.22" y="1349.68" width="73.59" height="18.7" fill="#aeacd8"/>
<rect x="924.51" y="1349.68" width="73.59" height="18.7" fill="#bfbde1"/>
<rect x="191.6" y="1368.08" width="73.59" height="18.7" fill="#666cb6"/>
<rect x="264.89" y="1368.08" width="73.59" height="18.7" fill="#3250a7"/>
<rect x="338.18" y="1368.08" width="73.59" height="18.7" fill="#545eae"/>
<rect x="411.47" y="1368.08" width="73.59" height="18.7" fill="#4958ab"/>
<rect x="484.76" y="1368.08" width="73.59" height="18.7" fill="#545eae"/>
<rect x="558.05" y="1368.08" width="73.59" height="18.7" fill="#8686c4"/>
<rect x="631.35" y="1368.08" width="73.59" height="18.7" fill="#7479bc"/>
<rect x="704.64" y="1368.08" width="73.59" height="18.7" fill="#aeacd8"/>
<rect x="777.93" y="1368.08" width="73.59" height="18.7" fill="#f09090"/>
<rect x="851.22" y="1368.08" width="73.59" height="18.7" fill="#eb6060"/>
<rect x="924.51" y="1368.08" width="73.59" height="18.7" fill="#ea5858"/>
<rect x="191.6" y="1386.49" width="73.59" height="18.7" fill="#7076ba"/>
<rect x="264.89" y="1386.49" width="73.59" height="18.7" fill="#6b71b8"/>
<rect x="338.18" y="1386.49" width="73.59" height="18.7" fill="#b6b4dc"/>
<rect x="411.47" y="1386.49" width="73.59" height="18.7" fill="#7076ba"/>
<rect x="484.76" y="1386.49" width="73.59" height="18.7" fill="#a6a4d4"/>
<rect x="558.05" y="1386.49" width="73.59" height="18.7" fill="#a6a4d4"/>
<rect x="631.35" y="1386.49" width="73.59" height="18.7" fill="#9392cb"/>
<rect x="704.64" y="1386.49" width="73.59" height="18.7" fill="#9a98ce"/>
<rect x="777.93" y="1386.49" width="73.59" height="18.7" fill="#ee7c7c"/>
<rect x="851.22" y="1386.49" width="73.59" height="18.7" fill="#ef8686"/>
<rect x="924.51" y="1386.49" width="73.59" height="18.7" fill="#bfbde1"/>
<rect x="191.6" y="1404.89" width="73.59" height="18.7" fill="#b6b4dc"/>
<rect x="264.89" y="1404.89" width="73.59" height="18.7" fill="#294ea6"/>
<rect x="338.18" y="1404.89" width="73.59" height="18.7" fill="#3e54a8"/>
<rect x="411.47" y="1404.89" width="73.59" height="18.7" fill="#3250a7"/>
<rect x="484.76" y="1404.89" width="73.59" height="18.7" fill="#3852a8"/>
<rect x="558.05" y="1404.89" width="73.59" height="18.7" fill="#b6b4dc"/>
<rect x="631.35" y="1404.89" width="73.59" height="18.7" fill="#f5a8a8"/>
<rect x="704.64" y="1404.89" width="73.59" height="18.7" fill="#ea5858"/>
<rect x="777.93" y="1404.89" width="73.59" height="18.7" fill="#8d8cc7"/>
<rect x="851.22" y="1404.89" width="73.59" height="18.7" fill="#dc2a22"/>
<rect x="924.51" y="1404.89" width="73.59" height="18.7" fill="#eb6060"/>
<rect x="191.6" y="1423.3" width="73.59" height="18.7" fill="#9a98ce"/>
<rect x="264.89" y="1423.3" width="73.59" height="18.7" fill="#294ea6"/>
<rect x="338.18" y="1423.3" width="73.59" height="18.7" fill="#3e54a8"/>
<rect x="411.47" y="1423.3" width="73.59" height="18.7" fill="#2e4fa6"/>
<rect x="484.76" y="1423.3" width="73.59" height="18.7" fill="#5a62b0"/>
<rect x="558.05" y="1423.3" width="73.59" height="18.7" fill="#f29898"/>
<rect x="631.35" y="1423.3" width="73.59" height="18.7" fill="#8686c4"/>
<rect x="704.64" y="1423.3" width="73.59" height="18.7" fill="#ec6868"/>
<rect x="777.93" y="1423.3" width="73.59" height="18.7" fill="#f5a8a8"/>
<rect x="851.22" y="1423.3" width="73.59" height="18.7" fill="#e44040"/>
<rect x="924.51" y="1423.3" width="73.59" height="18.7" fill="#ed7272"/>
<rect x="191.6" y="1441.7" width="73.59" height="18.7" fill="#666cb6"/>
<rect x="264.89" y="1441.7" width="73.59" height="18.7" fill="#8d8cc7"/>
<rect x="338.18" y="1441.7" width="73.59" height="18.7" fill="#666cb6"/>
<rect x="411.47" y="1441.7" width="73.59" height="18.7" fill="#7f81c1"/>
<rect x="484.76" y="1441.7" width="73.59" height="18.7" fill="#c8c6e6"/>
<rect x="558.05" y="1441.7" width="73.59" height="18.7" fill="#a6a4d4"/>
<rect x="631.35" y="1441.7" width="73.59" height="18.7" fill="#9a98ce"/>
<rect x="704.64" y="1441.7" width="73.59" height="18.7" fill="#f29898"/>
<rect x="777.93" y="1441.7" width="73.59" height="18.7" fill="#b6b4dc"/>
<rect x="851.22" y="1441.7" width="73.59" height="18.7" fill="#ed7272"/>
<rect x="924.51" y="1441.7" width="73.59" height="18.7" fill="#eb6060"/>
<rect x="191.6" y="1460.11" width="73.59" height="18.7" fill="#a09ed1"/>
<rect x="264.89" y="1460.11" width="73.59" height="18.7" fill="#3e54a8"/>
<rect x="338.18" y="1460.11" width="73.59" height="18.7" fill="#666cb6"/>
<rect x="411.47" y="1460.11" width="73.59" height="18.7" fill="#6067b3"/>
<rect x="484.76" y="1460.11" width="73.59" height="18.7" fill="#7479bc"/>
<rect x="558.05" y="1460.11" width="73.59" height="18.7" fill="#b6b4dc"/>
<rect x="631.35" y="1460.11" width="73.59" height="18.7" fill="#aeacd8"/>
<rect x="704.64" y="1460.11" width="73.59" height="18.7" fill="#ef8686"/>
<rect x="777.93" y="1460.11" width="73.59" height="18.7" fill="#9392cb"/>
<rect x="851.22" y="1460.11" width="73.59" height="18.7" fill="#ea5858"/>
<rect x="924.51" y="1460.11" width="73.59" height="18.7" fill="#b6b4dc"/>
<rect x="191.6" y="1478.51" width="73.59" height="18.7" fill="#a09ed1"/>
<rect x="264.89" y="1478.51" width="73.59" height="18.7" fill="#3e54a8"/>
<rect x="338.18" y="1478.51" width="73.59" height="18.7" fill="#3e54a8"/>
<rect x="411.47" y="1478.51" width="73.59" height="18.7" fill="#545eae"/>
<rect x="484.76" y="1478.51" width="73.59" height="18.7" fill="#8686c4"/>
<rect x="558.05" y="1478.51" width="73.59" height="18.7" fill="#ee7c7c"/>
<rect x="631.35" y="1478.51" width="73.59" height="18.7" fill="#ee7c7c"/>
<rect x="704.64" y="1478.51" width="73.59" height="18.7" fill="#ed7272"/>
<rect x="777.93" y="1478.51" width="73.59" height="18.7" fill="#e64848"/>
<rect x="851.22" y="1478.51" width="73.59" height="18.7" fill="#ea5858"/>
<rect x="924.51" y="1478.51" width="73.59" height="18.7" fill="#9392cb"/>
<rect x="191.6" y="1496.92" width="73.59" height="18.7" fill="#f5a8a8"/>
<rect x="264.89" y="1496.92" width="73.59" height="18.7" fill="#2e4fa6"/>
<rect x="338.18" y="1496.92" width="73.59" height="18.7" fill="#3e54a8"/>
<rect x="411.47" y="1496.92" width="73.59" height="18.7" fill="#3e54a8"/>
<rect x="484.76" y="1496.92" width="73.59" height="18.7" fill="#4e5aac"/>
<rect x="558.05" y="1496.92" width="73.59" height="18.7" fill="#aeacd8"/>
<rect x="631.35" y="1496.92" width="73.59" height="18.7" fill="#a6a4d4"/>
<rect x="704.64" y="1496.92" width="73.59" height="18.7" fill="#ec6868"/>
<rect x="777.93" y="1496.92" width="73.59" height="18.7" fill="#ec6868"/>
<rect x="851.22" y="1496.92" width="73.59" height="18.7" fill="#e85050"/>
<rect x="924.51" y="1496.92" width="73.59" height="18.7" fill="#a6a4d4"/>
<rect x="191.6" y="1515.32" width="73.59" height="18.7" fill="#ed7272"/>
<rect x="264.89" y="1515.32" width="73.59" height="18.7" fill="#3e54a8"/>
<rect x="338.18" y="1515.32" width="73.59" height="18.7" fill="#6b71b8"/>
<rect x="411.47" y="1515.32" width="73.59" height="18.7" fill="#6b71b8"/>
<rect x="484.76" y="1515.32" width="73.59" height="18.7" fill="#7f81c1"/>
<rect x="558.05" y="1515.32" width="73.59" height="18.7" fill="#f4a0a0"/>
<rect x="631.35" y="1515.32" width="73.59" height="18.7" fill="#f4a0a0"/>
<rect x="704.64" y="1515.32" width="73.59" height="18.7" fill="#ec6868"/>
<rect x="777.93" y="1515.32" width="73.59" height="18.7" fill="#f4a0a0"/>
<rect x="851.22" y="1515.32" width="73.59" height="18.7" fill="#ee7c7c"/>
<rect x="924.51" y="1515.32" width="73.59" height="18.7" fill="#ee7c7c"/>
<rect x="191.6" y="1533.73" width="73.59" height="18.7" fill="#f7baba"/>
<rect x="264.89" y="1533.73" width="73.59" height="18.7" fill="#ef8686"/>
<rect x="338.18" y="1533.73" width="73.59" height="18.7" fill="#ed7272"/>
<rect x="411.47" y="1533.73" width="73.59" height="18.7" fill="#f4a0a0"/>
<rect x="484.76" y="1533.73" width="73.59" height="18.7" fill="#b6b4dc"/>
<rect x="558.05" y="1533.73" width="73.59" height="18.7" fill="#ec6868"/>
<rect x="631.35" y="1533.73" width="73.59" height="18.7" fill="#f4a0a0"/>
<rect x="704.64" y="1533.73" width="73.59" height="18.7" fill="#b6b4dc"/>
<rect x="777.93" y="1533.73" width="73.59" height="18.7" fill="#ed7272"/>
<rect x="851.22" y="1533.73" width="73.59" height="18.7" fill="#ed7272"/>
<rect x="924.51" y="1533.73" width="73.59" height="18.7" fill="#7f81c1"/>
<rect x="191.6" y="1552.13" width="73.59" height="18.7" fill="#9392cb"/>
<rect x="264.89" y="1552.13" width="73.59" height="18.7" fill="#ed7272"/>
<rect x="338.18" y="1552.13" width="73.59" height="18.7" fill="#f4a0a0"/>
<rect x="411.47" y="1552.13" width="73.59" height="18.7" fill="#ee7c7c"/>
<rect x="484.76" y="1552.13" width="73.59" height="18.7" fill="#aeacd8"/>
<rect x="558.05" y="1552.13" width="73.59" height="18.7" fill="#bfbde1"/>
<rect x="631.35" y="1552.13" width="73.59" height="18.7" fill="#9a98ce"/>
<rect x="704.64" y="1552.13" width="73.59" height="18.7" fill="#787cbe"/>
<rect x="777.93" y="1552.13" width="73.59" height="18.7" fill="#a09ed1"/>
<rect x="851.22" y="1552.13" width="73.59" height="18.7" fill="#ef8686"/>
<rect x="924.51" y="1552.13" width="73.59" height="18.7" fill="#9a98ce"/>
<rect x="191.6" y="1570.54" width="73.59" height="18.7" fill="#ef8686"/>
<rect x="264.89" y="1570.54" width="73.59" height="18.7" fill="#bfbde1"/>
<rect x="338.18" y="1570.54" width="73.59" height="18.7" fill="#ef8686"/>
<rect x="411.47" y="1570.54" width="73.59" height="18.7" fill="#ef8686"/>
<rect x="484.76" y="1570.54" width="73.59" height="18.7" fill="#f4a0a0"/>
<rect x="558.05" y="1570.54" width="73.59" height="18.7" fill="#bfbde1"/>
<rect x="631.35" y="1570.54" width="73.59" height="18.7" fill="#8d8cc7"/>
<rect x="704.64" y="1570.54" width="73.59" height="18.7" fill="#666cb6"/>
<rect x="777.93" y="1570.54" width="73.59" height="18.7" fill="#8686c4"/>
<rect x="851.22" y="1570.54" width="73.59" height="18.7" fill="#eb6060"/>
<rect x="924.51" y="1570.54" width="73.59" height="18.7" fill="#9a98ce"/>
<rect x="191.6" y="1588.94" width="73.59" height="18.7" fill="#dc2a22"/>
<rect x="264.89" y="1588.94" width="73.59" height="18.7" fill="#bfbde1"/>
<rect x="338.18" y="1588.94" width="73.59" height="18.7" fill="#f29898"/>
<rect x="411.47" y="1588.94" width="73.59" height="18.7" fill="#e85050"/>
<rect x="484.76" y="1588.94" width="73.59" height="18.7" fill="#ea5858"/>
<rect x="558.05" y="1588.94" width="73.59" height="18.7" fill="#ec6868"/>
<rect x="631.35" y="1588.94" width="73.59" height="18.7" fill="#9392cb"/>
<rect x="704.64" y="1588.94" width="73.59" height="18.7" fill="#9392cb"/>
<rect x="777.93" y="1588.94" width="73.59" height="18.7" fill="#9a98ce"/>
<rect x="851.22" y="1588.94" width="73.59" height="18.7" fill="#ed7272"/>
<rect x="924.51" y="1588.94" width="73.59" height="18.7" fill="#b6b4dc"/>
<rect x="191.6" y="1607.35" width="73.59" height="18.7" fill="#f4a0a0"/>
<rect x="264.89" y="1607.35" width="73.59" height="18.7" fill="#eb6060"/>
<rect x="338.18" y="1607.35" width="73.59" height="18.7" fill="#ec6868"/>
<rect x="411.47" y="1607.35" width="73.59" height="18.7" fill="#f4a0a0"/>
<rect x="484.76" y="1607.35" width="73.59" height="18.7" fill="#ef8686"/>
<rect x="558.05" y="1607.35" width="73.59" height="18.7" fill="#bfbde1"/>
<rect x="631.35" y="1607.35" width="73.59" height="18.7" fill="#f7baba"/>
<rect x="704.64" y="1607.35" width="73.59" height="18.7" fill="#a6a4d4"/>
<rect x="777.93" y="1607.35" width="73.59" height="18.7" fill="#c8c6e6"/>
<rect x="851.22" y="1607.35" width="73.59" height="18.7" fill="#9a98ce"/>
<rect x="924.51" y="1607.35" width="73.59" height="18.7" fill="#aeacd8"/>
<rect x="191.6" y="1625.75" width="73.59" height="18.7" fill="#ea5858"/>
<rect x="264.89" y="1625.75" width="73.59" height="18.7" fill="#e44040"/>
<rect x="338.18" y="1625.75" width="73.59" height="18.7" fill="#eb6060"/>
<rect x="411.47" y="1625.75" width="73.59" height="18.7" fill="#ea5858"/>
<rect x="484.76" y="1625.75" width="73.59" height="18.7" fill="#eb6060"/>
<rect x="558.05" y="1625.75" width="73.59" height="18.7" fill="#8d8cc7"/>
<rect x="631.35" y="1625.75" width="73.59" height="18.7" fill="#8d8cc7"/>
<rect x="704.64" y="1625.75" width="73.59" height="18.7" fill="#7076ba"/>
<rect x="777.93" y="1625.75" width="73.59" height="18.7" fill="#a6a4d4"/>
<rect x="851.22" y="1625.75" width="73.59" height="18.7" fill="#9392cb"/>
<rect x="924.51" y="1625.75" width="73.59" height="18.7" fill="#b6b4dc"/>
<rect x="191.6" y="1644.16" width="73.59" height="18.7" fill="#e64848"/>
<rect x="264.89" y="1644.16" width="73.59" height="18.7" fill="#ec6868"/>
<rect x="338.18" y="1644.16" width="73.59" height="18.7" fill="#d0ceea"/>
<rect x="411.47" y="1644.16" width="73.59" height="18.7" fill="#ee7c7c"/>
<rect x="484.76" y="1644.16" width="73.59" height="18.7" fill="#aeacd8"/>
<rect x="558.05" y="1644.16" width="73.59" height="18.7" fill="#7076ba"/>
<rect x="631.35" y="1644.16" width="73.59" height="18.7" fill="#b6b4dc"/>
<rect x="704.64" y="1644.16" width="73.59" height="18.7" fill="#787cbe"/>
<rect x="777.93" y="1644.16" width="73.59" height="18.7" fill="#b6b4dc"/>
<rect x="851.22" y="1644.16" width="73.59" height="18.7" fill="#9392cb"/>
<rect x="924.51" y="1644.16" width="73.59" height="18.7" fill="#a6a4d4"/>
<rect x="191.6" y="1662.56" width="73.59" height="18.7" fill="#ea5858"/>
<rect x="264.89" y="1662.56" width="73.59" height="18.7" fill="#eb6060"/>
<rect x="338.18" y="1662.56" width="73.59" height="18.7" fill="#a09ed1"/>
<rect x="411.47" y="1662.56" width="73.59" height="18.7" fill="#ec6868"/>
<rect x="484.76" y="1662.56" width="73.59" height="18.7" fill="#f09090"/>
<rect x="558.05" y="1662.56" width="73.59" height="18.7" fill="#f09090"/>
<rect x="631.35" y="1662.56" width="73.59" height="18.7" fill="#a6a4d4"/>
<rect x="704.64" y="1662.56" width="73.59" height="18.7" fill="#6067b3"/>
<rect x="777.93" y="1662.56" width="73.59" height="18.7" fill="#9a98ce"/>
<rect x="851.22" y="1662.56" width="73.59" height="18.7" fill="#666cb6"/>
<rect x="924.51" y="1662.56" width="73.59" height="18.7" fill="#aeacd8"/>
<rect x="191.6" y="1680.97" width="73.59" height="18.7" fill="#dc2a22"/>
<rect x="264.89" y="1680.97" width="73.59" height="18.7" fill="#dc2a22"/>
<rect x="338.18" y="1680.97" width="73.59" height="18.7" fill="#ed7272"/>
<rect x="411.47" y="1680.97" width="73.59" height="18.7" fill="#df312c"/>
<rect x="484.76" y="1680.97" width="73.59" height="18.7" fill="#e13936"/>
<rect x="558.05" y="1680.97" width="73.59" height="18.7" fill="#eb6060"/>
<rect x="631.35" y="1680.97" width="73.59" height="18.7" fill="#eb6060"/>
<rect x="704.64" y="1680.97" width="73.59" height="18.7" fill="#a6a4d4"/>
<rect x="777.93" y="1680.97" width="73.59" height="18.7" fill="#b6b4dc"/>
<rect x="851.22" y="1680.97" width="73.59" height="18.7" fill="#7076ba"/>
<rect x="924.51" y="1680.97" width="73.59" height="18.7" fill="#a6a4d4"/>
<rect x="191.6" y="1699.37" width="73.59" height="18.7" fill="#dc2a22"/>
<rect x="264.89" y="1699.37" width="73.59" height="18.7" fill="#e13936"/>
<rect x="338.18" y="1699.37" width="73.59" height="18.7" fill="#ef8686"/>
<rect x="411.47" y="1699.37" width="73.59" height="18.7" fill="#e13936"/>
<rect x="484.76" y="1699.37" width="73.59" height="18.7" fill="#e44040"/>
<rect x="558.05" y="1699.37" width="73.59" height="18.7" fill="#ec6868"/>
<rect x="631.35" y="1699.37" width="73.59" height="18.7" fill="#e44040"/>
<rect x="704.64" y="1699.37" width="73.59" height="18.7" fill="#ea5858"/>
<rect x="777.93" y="1699.37" width="73.59" height="18.7" fill="#aeacd8"/>
<rect x="851.22" y="1699.37" width="73.59" height="18.7" fill="#f5a8a8"/>
<rect x="924.51" y="1699.37" width="73.59" height="18.7" fill="#a6a4d4"/>
<rect x="191.6" y="1717.78" width="73.59" height="18.7" fill="#ef8686"/>
<rect x="264.89" y="1717.78" width="73.59" height="18.7" fill="#f09090"/>
<rect x="338.18" y="1717.78" width="73.59" height="18.7" fill="#f4a0a0"/>
<rect x="411.47" y="1717.78" width="73.59" height="18.7" fill="#aeacd8"/>
<rect x="484.76" y="1717.78" width="73.59" height="18.7" fill="#aeacd8"/>
<rect x="558.05" y="1717.78" width="73.59" height="18.7" fill="#aeacd8"/>
<rect x="631.35" y="1717.78" width="73.59" height="18.7" fill="#ee7c7c"/>
<rect x="704.64" y="1717.78" width="73.59" height="18.7" fill="#f29898"/>
<rect x="777.93" y="1717.78" width="73.59" height="18.7" fill="#b6b4dc"/>
<rect x="851.22" y="1717.78" width="73.59" height="18.7" fill="#9a98ce"/>
<rect x="924.51" y="1717.78" width="73.59" height="18.7" fill="#7f81c1"/>
<rect x="191.6" y="1736.18" width="73.59" height="18.7" fill="#ee7c7c"/>
<rect x="264.89" y="1736.18" width="73.59" height="18.7" fill="#a6a4d4"/>
<rect x="338.18" y="1736.18" width="73.59" height="18.7" fill="#b6b4dc"/>
<rect x="411.47" y="1736.18" width="73.59" height="18.7" fill="#aeacd8"/>
<rect x="484.76" y="1736.18" width="73.59" height="18.7" fill="#aeacd8"/>
<rect x="558.05" y="1736.18" width="73.59" height="18.7" fill="#f29898"/>
<rect x="631.35" y="1736.18" width="73.59" height="18.7" fill="#ee7c7c"/>
<rect x="704.64" y="1736.18" width="73.59" height="18.7" fill="#ec6868"/>
<rect x="777.93" y="1736.18" width="73.59" height="18.7" fill="#ef8686"/>
<rect x="851.22" y="1736.18" width="73.59" height="18.7" fill="#7f81c1"/>
<rect x="924.51" y="1736.18" width="73.59" height="18.7" fill="#a6a4d4"/>
<rect x="191.6" y="1754.59" width="73.59" height="18.7" fill="#e13936"/>
<rect x="264.89" y="1754.59" width="73.59" height="18.7" fill="#a6a4d4"/>
<rect x="338.18" y="1754.59" width="73.59" height="18.7" fill="#f29898"/>
<rect x="411.47" y="1754.59" width="73.59" height="18.7" fill="#ee7c7c"/>
<rect x="484.76" y="1754.59" width="73.59" height="18.7" fill="#f4a0a0"/>
<rect x="558.05" y="1754.59" width="73.59" height="18.7" fill="#a6a4d4"/>
<rect x="631.35" y="1754.59" width="73.59" height="18.7" fill="#ee7c7c"/>
<rect x="704.64" y="1754.59" width="73.59" height="18.7" fill="#ee7c7c"/>
<rect x="777.93" y="1754.59" width="73.59" height="18.7" fill="#f4a0a0"/>
<rect x="851.22" y="1754.59" width="73.59" height="18.7" fill="#9392cb"/>
<rect x="924.51" y="1754.59" width="73.59" height="18.7" fill="#f29898"/>
<rect x="191.6" y="1772.99" width="73.59" height="18.7" fill="#f09090"/>
<rect x="264.89" y="1772.99" width="73.59" height="18.7" fill="#bfbde1"/>
<rect x="338.18" y="1772.99" width="73.59" height="18.7" fill="#b6b4dc"/>
<rect x="411.47" y="1772.99" width="73.59" height="18.7" fill="#a6a4d4"/>
<rect x="484.76" y="1772.99" width="73.59" height="18.7" fill="#f4a0a0"/>
<rect x="558.05" y="1772.99" width="73.59" height="18.7" fill="#9392cb"/>
<rect x="631.35" y="1772.99" width="73.59" height="18.7" fill="#f29898"/>
<rect x="704.64" y="1772.99" width="73.59" height="18.7" fill="#f29898"/>
<rect x="777.93" y="1772.99" width="73.59" height="18.7" fill="#f4a0a0"/>
<rect x="851.22" y="1772.99" width="73.59" height="18.7" fill="#ed7272"/>
<rect x="924.51" y="1772.99" width="73.59" height="18.7" fill="#4958ab"/>
<rect x="191.6" y="1791.4" width="73.59" height="18.7" fill="#f4a0a0"/>
<rect x="264.89" y="1791.4" width="73.59" height="18.7" fill="#f5a8a8"/>
<rect x="338.18" y="1791.4" width="73.59" height="18.7" fill="#b6b4dc"/>
<rect x="411.47" y="1791.4" width="73.59" height="18.7" fill="#a6a4d4"/>
<rect x="484.76" y="1791.4" width="73.59" height="18.7" fill="#f4a0a0"/>
<rect x="558.05" y="1791.4" width="73.59" height="18.7" fill="#b6b4dc"/>
<rect x="631.35" y="1791.4" width="73.59" height="18.7" fill="#ed7272"/>
<rect x="704.64" y="1791.4" width="73.59" height="18.7" fill="#e85050"/>
<rect x="777.93" y="1791.4" width="73.59" height="18.7" fill="#f29898"/>
<rect x="851.22" y="1791.4" width="73.59" height="18.7" fill="#ec6868"/>
<rect x="924.51" y="1791.4" width="73.59" height="18.7" fill="#ef8686"/>
</g>
<text x="1000" y="1071.3" font-size="19.45">Sanjeev_2021_gdTcell_IL2IPP_Depress_IPP_GSI</text>
<text x="1000" y="1089.71" font-size="19.45">Sanjeev_2021_gdTcell_IL2antiCD3_Depress_CD3_GSI</text>
<text x="1000" y="1108.11" font-size="19.45">Peter_2019_G523NS_Depress_GSI</text>
<text x="1000" y="1126.52" font-size="19.45">Nihal_2021_SK2_BI6727_Depress_Combine</text>
<text x="1000" y="1144.92" font-size="19.45">Bert_2013_HUVEC_shPFKFB3_Depress_shPFKFB3_DAPT</text>
<text x="1000" y="1163.33" font-size="19.45">Bert_2013_HUVEC_Depress_DAPT</text>
<text x="1000" y="1181.73" font-size="19.45">Dan_2020_Mv411_Ac220_Depress_Combine</text>
<text x="1000" y="1200.14" font-size="19.45">Dan_2020_MolM1_Ac220_Depress_Comine</text>
<text x="1000" y="1218.54" font-size="19.45">Dan_2020_Mv411_Depress_DAPT</text>
<text x="1000" y="1236.95" font-size="19.45">Peter_2019_G523NS_ASCL1KO_Depress_ASCL1KO_GSI</text>
<text x="1000" y="1255.35" font-size="19.45">Luigi_2018_GBM1_Depress_MRK003_HI</text>
<text x="1000" y="1273.76" font-size="19.45">Luigi_2018_GBM10_Depress_MRK003_HI</text>
<text x="1000" y="1292.16" font-size="19.45">Annelynn_2019_CUTLL1_Depress_GSI_12h</text>
<text x="1000" y="1310.57" font-size="19.45">Antonio_2012_NSCLC_H358_Depress_DAPT</text>
<text x="1000" y="1328.97" font-size="19.45">Eric_2018_T-ALL_Depress_GSI</text>
<text x="1000" y="1347.38" font-size="19.45">Eric_2018_T-ALL_Depress_A4</text>
<text x="1000" y="1365.78" font-size="19.45">Annelynn_2014_CUTLL1_Depress_GSI_48h</text>
<text x="1000" y="1384.19" font-size="19.45">Jiang_2014_KOPT-K1_Depress_CompE</text>
<text x="1000" y="1402.59" font-size="19.45">Annelynn_2019_CUTLL1_Depress_GSI_48h</text>
<text x="1000" y="1421" font-size="19.45">Robert_2019_Rec-1_Depress_CompE</text>
<text x="1000" y="1439.4" font-size="19.45">Adoflo_2007_CUTLL1_Depress_CompE</text>
<text x="1000" y="1457.8" font-size="19.45">Sanjeev_2021_gdTcell_IL2HDMAPP_Depress_HDMAPP_GSI</text>
<text x="1000" y="1476.21" font-size="19.45">Robert_2019_SP-49_Depress_CompE</text>
<text x="1000" y="1494.61" font-size="19.45">Jiang_2014_DND41_Depress_CompE</text>
<text x="1000" y="1513.02" font-size="19.45">Adoflo_2007_CUTLL1_DEXA_Depress_Combine</text>
<text x="1000" y="1531.42" font-size="19.45">Annelynn_2014_CUTLL1_Depress_GSI_12h</text>
<text x="1000" y="1549.83" font-size="19.45">Robert_2019_Mino_Depress_CompE</text>
<text x="1000" y="1568.23" font-size="19.45">Luigi_2018_GBM1_Depress_MRK003_LO</text>
<text x="1000" y="1586.64" font-size="19.45">Luigi_2018_GBM2_Depress_MRK003_LO</text>
<text x="1000" y="1605.04" font-size="19.45">Luigi_2018_GBM14_Depress_MRK003_HI</text>
<text x="1000" y="1623.45" font-size="19.45">Nihal_2021_SK2_Depress_MK-0752</text>
<text x="1000" y="1641.85" font-size="19.45">Guttorm_2018_HUVEC_Depress_Si_NOTCH1</text>
<text x="1000" y="1660.26" font-size="19.45">Guttorm_2018_HUVEC_IL1_Depress_IL1_Si_NOTCH1</text>
<text x="1000" y="1678.66" font-size="19.45">Kartiek_2014_NCC_Depress_DAPT</text>
<text x="1000" y="1697.07" font-size="19.45">Hiroshi_2011_EPC3_LO_Depress_LO_Si_NOTCH3</text>
<text x="1000" y="1715.47" font-size="19.45">Hiroshi_2011_EPC3_Hi_Depress_HI_Si_NOTCH3</text>
<text x="1000" y="1733.88" font-size="19.45">Suraj_2018_MCF7_Depress_GSI</text>
<text x="1000" y="1752.28" font-size="19.45">Mark_2019_Jurkat_Depress_DAPT</text>
<text x="1000" y="1770.69" font-size="19.45">David_2018_MOLT4_Depress_GSI</text>
<text x="1000" y="1789.09" font-size="19.45">Suraj_2018_MCF7_EDTA_Depress_EDTA_GSI</text>
<text x="1000" y="1807.5" font-size="19.45">Dan_2020_MolM1_Depress_DAPT</text>
<text font-size="19.4" text-anchor="end" transform="translate(232.25 1825.3) rotate(-30)">YU_MYC_TARGETS_UP</text>
<text font-size="19.4" text-anchor="end" transform="translate(305.54 1825.3) rotate(-30)">SCHUHMACHER_MYC_TARGETS_UP</text>
<text font-size="19.4" text-anchor="end" transform="translate(378.83 1825.3) rotate(-30)">COLLER_MYC_TARGETS_UP</text>
<text font-size="19.4" text-anchor="end" transform="translate(452.12 1825.3) rotate(-30)">DANG_MYC_TARGETS_UP</text>
<text font-size="19.4" text-anchor="end" transform="translate(525.41 1825.3) rotate(-30)">DANG_REGULATED_BY_MYC_UP</text>
<text font-size="19.4" text-anchor="end" transform="translate(598.7 1825.3) rotate(-30)">LEE_LIVER_CANCER_MYC_DN</text>
<text font-size="19.4" text-anchor="end" transform="translate(671.99 1825.3) rotate(-30)">LEE_LIVER_CANCER_MYC_UP</text>
<text font-size="19.4" text-anchor="end" transform="translate(745.28 1825.3) rotate(-30)">DANG_REGULATED_BY_MYC_DN</text>
<text font-size="19.4" text-anchor="end" transform="translate(818.57 1825.3) rotate(-30)">ELLWOOD_MYC_TARGETS_DN</text>
<text font-size="19.4" text-anchor="end" transform="translate(891.86 1825.3) rotate(-30)">YU_MYC_TARGETS_DN</text>
<text font-size="19.4" text-anchor="end" transform="translate(965.15 1825.3) rotate(-30)">DANG_MYC_TARGETS_DN</text>
<path d="M183 1064.4H159.2V1082.81H183M183 1101.21H166.2V1119.62H183M159.2 1073.6H148.5V1110.41H166.2M183 1138.02H154.5V1156.43H183M183 1174.83H162.6V1193.24H183M162.6 1184.03H155.4V1211.64H183M154.5 1147.22H148.5V1197.84H155.4M148.5 1092.01H140.4V1172.53H148.5M183 1230.05H153.2V1248.45H183M183 1266.86H161.8V1285.26H183M161.8 1276.06H156.8V1303.67H183M153.2 1239.25H148.5V1289.86H156.8M140.4 1132.27H135.3V1264.56H148.5M183 1322.07H162.3V1340.48H183M162.3 1331.27H158.5V1358.88H183M183 1377.29H160.6V1395.69H183M158.5 1345.08H145.1V1386.49H160.6M183 1414.1H156.8V1432.5H183M183 1450.9H161.4V1469.31H183M156.8 1423.3H154.5V1460.11H161.4M183 1487.71H157V1506.12H183M157 1496.92H156.8V1524.52H183M154.5 1441.7H145.9V1510.72H156.8M145.1 1365.78H139.4V1476.21H145.9M135.3 1198.41H127.9V1421H139.4M183 1542.93H152V1561.33H183M183 1579.74H163.1V1598.14H183M152 1552.13H144.7V1588.94H163.1M183 1616.55H165.4V1634.95H183M165.4 1625.75H158.5V1653.36H183M158.5 1639.55H155.9V1671.76H183M144.7 1570.54H143V1655.66H155.9M183 1690.17H157.6V1708.57H183M143 1613.1H136.1V1699.37H157.6M183 1726.98H155.9V1745.38H183M155.9 1736.18H150.2V1763.79H183M183 1782.19H156.8V1800.6H183M150.2 1749.98H147.7V1791.4H156.8M136.1 1656.23H132.7V1770.69H147.7M127.9 1309.7H102.4V1713.46H132.7" fill="none" stroke="#000" stroke-width="1.7" stroke-linejoin="miter" stroke-linecap="butt"/>
<path d="M448.12 1048.7V1040.5H521.41V1048.7M374.83 1048.7V1038.9H484.76V1040.5M301.54 1048.7V1038H429.8V1038.9M228.25 1048.7V1032.9H365.67V1038M741.28 1048.7V1036.4H814.57V1048.7M667.99 1048.7V1034.2H777.93V1036.4M594.7 1048.7V1033.2H722.96V1034.2M887.86 1048.7V1033.2H961.15V1048.7M658.83 1033.2V1031.3H924.51V1033.2M296.96 1032.9V1025H791.67V1031.3" fill="none" stroke="#000" stroke-width="1.7" stroke-linejoin="miter"/>
<defs><linearGradient id="gE" x1="0" y1="0" x2="0" y2="1"><stop offset="0%" stop-color="#da241c"/><stop offset="2.66%" stop-color="#dc2a22"/><stop offset="7.98%" stop-color="#e44040"/><stop offset="13.3%" stop-color="#ea5858"/><stop offset="16.84%" stop-color="#ec6868"/><stop offset="20.39%" stop-color="#ee7c7c"/><stop offset="23.94%" stop-color="#f09090"/><stop offset="27.48%" stop-color="#f4a0a0"/><stop offset="31.03%" stop-color="#f6b0b0"/><stop offset="34.57%" stop-color="#f8c4c4"/><stop offset="36.35%" stop-color="#f8cccc"/><stop offset="43.44%" stop-color="#ffffff"/><stop offset="50.53%" stop-color="#d8d6ee"/><stop offset="54.08%" stop-color="#c8c6e6"/><stop offset="57.62%" stop-color="#b6b4dc"/><stop offset="61.17%" stop-color="#a6a4d4"/><stop offset="64.72%" stop-color="#9a98ce"/><stop offset="70.04%" stop-color="#8686c4"/><stop offset="73.58%" stop-color="#787cbe"/><stop offset="77.13%" stop-color="#7076ba"/><stop offset="80.67%" stop-color="#666cb6"/><stop offset="84.22%" stop-color="#5a62b0"/><stop offset="87.77%" stop-color="#4e5aac"/><stop offset="93.09%" stop-color="#3e54a8"/><stop offset="96.63%" stop-color="#3250a7"/><stop offset="100%" stop-color="#294ea6"/></linearGradient></defs>
<rect x="1548.4" y="1376.1" width="27.8" height="139.9" fill="url(#gE)"/>
<line x1="1548.4" y1="1387.4" x2="1554" y2="1387.4" stroke="#fff" stroke-width="1.1"/>
<line x1="1570.6" y1="1387.4" x2="1576.2" y2="1387.4" stroke="#fff" stroke-width="1.1"/>
<line x1="1548.4" y1="1412.3" x2="1554" y2="1412.3" stroke="#fff" stroke-width="1.1"/>
<line x1="1570.6" y1="1412.3" x2="1576.2" y2="1412.3" stroke="#fff" stroke-width="1.1"/>
<line x1="1548.4" y1="1437.2" x2="1554" y2="1437.2" stroke="#fff" stroke-width="1.1"/>
<line x1="1570.6" y1="1437.2" x2="1576.2" y2="1437.2" stroke="#fff" stroke-width="1.1"/>
<line x1="1548.4" y1="1461.5" x2="1554" y2="1461.5" stroke="#fff" stroke-width="1.1"/>
<line x1="1570.6" y1="1461.5" x2="1576.2" y2="1461.5" stroke="#fff" stroke-width="1.1"/>
<line x1="1548.4" y1="1486.4" x2="1554" y2="1486.4" stroke="#fff" stroke-width="1.1"/>
<line x1="1570.6" y1="1486.4" x2="1576.2" y2="1486.4" stroke="#fff" stroke-width="1.1"/>
<line x1="1548.4" y1="1511.3" x2="1554" y2="1511.3" stroke="#fff" stroke-width="1.1"/>
<line x1="1570.6" y1="1511.3" x2="1576.2" y2="1511.3" stroke="#fff" stroke-width="1.1"/>
<text x="1586" y="1392" font-size="19.2">2</text>
<text x="1586" y="1416.6" font-size="19.2">1</text>
<text x="1586" y="1440.7" font-size="19.2">0</text>
<text x="1586" y="1465.4" font-size="19.2">-1</text>
<text x="1586" y="1490.5" font-size="19.2">-2</text>
<text x="1586" y="1515.1" font-size="19.2">-3</text>
<text x="1548.4" y="1361.7" font-size="19.2">NES</text>
<text x="130.8" y="1023.8" font-size="32.5" font-weight="bold">E</text>
<g shape-rendering="crispEdges">
<rect x="198.5" y="2053.2" width="73.45" height="18.85" fill="#7076ba"/>
<rect x="271.65" y="2053.2" width="73.45" height="18.85" fill="#ea5858"/>
<rect x="344.79" y="2053.2" width="73.45" height="18.85" fill="#f5a8a8"/>
<rect x="417.94" y="2053.2" width="73.45" height="18.85" fill="#ec6868"/>
<rect x="491.08" y="2053.2" width="73.45" height="18.85" fill="#f29898"/>
<rect x="564.23" y="2053.2" width="73.45" height="18.85" fill="#ea5858"/>
<rect x="637.37" y="2053.2" width="73.45" height="18.85" fill="#4356a9"/>
<rect x="710.52" y="2053.2" width="73.45" height="18.85" fill="#6067b3"/>
<rect x="783.66" y="2053.2" width="73.45" height="18.85" fill="#3852a8"/>
<rect x="856.81" y="2053.2" width="73.45" height="18.85" fill="#4356a9"/>
<rect x="929.95" y="2053.2" width="73.45" height="18.85" fill="#545eae"/>
<rect x="198.5" y="2071.75" width="73.45" height="18.85" fill="#f29898"/>
<rect x="271.65" y="2071.75" width="73.45" height="18.85" fill="#e64848"/>
<rect x="344.79" y="2071.75" width="73.45" height="18.85" fill="#ee7c7c"/>
<rect x="417.94" y="2071.75" width="73.45" height="18.85" fill="#ed7272"/>
<rect x="491.08" y="2071.75" width="73.45" height="18.85" fill="#f4a0a0"/>
<rect x="564.23" y="2071.75" width="73.45" height="18.85" fill="#e64848"/>
<rect x="637.37" y="2071.75" width="73.45" height="18.85" fill="#3250a7"/>
<rect x="710.52" y="2071.75" width="73.45" height="18.85" fill="#4e5aac"/>
<rect x="783.66" y="2071.75" width="73.45" height="18.85" fill="#2e4fa6"/>
<rect x="856.81" y="2071.75" width="73.45" height="18.85" fill="#4356a9"/>
<rect x="929.95" y="2071.75" width="73.45" height="18.85" fill="#4958ab"/>
<rect x="198.5" y="2090.3" width="73.45" height="18.85" fill="#9392cb"/>
<rect x="271.65" y="2090.3" width="73.45" height="18.85" fill="#787cbe"/>
<rect x="344.79" y="2090.3" width="73.45" height="18.85" fill="#a09ed1"/>
<rect x="417.94" y="2090.3" width="73.45" height="18.85" fill="#4356a9"/>
<rect x="491.08" y="2090.3" width="73.45" height="18.85" fill="#e85050"/>
<rect x="564.23" y="2090.3" width="73.45" height="18.85" fill="#ee7c7c"/>
<rect x="637.37" y="2090.3" width="73.45" height="18.85" fill="#294ea6"/>
<rect x="710.52" y="2090.3" width="73.45" height="18.85" fill="#6b71b8"/>
<rect x="783.66" y="2090.3" width="73.45" height="18.85" fill="#dc2a22"/>
<rect x="856.81" y="2090.3" width="73.45" height="18.85" fill="#ef8686"/>
<rect x="929.95" y="2090.3" width="73.45" height="18.85" fill="#f29898"/>
<rect x="198.5" y="2108.85" width="73.45" height="18.85" fill="#8686c4"/>
<rect x="271.65" y="2108.85" width="73.45" height="18.85" fill="#e85050"/>
<rect x="344.79" y="2108.85" width="73.45" height="18.85" fill="#f09090"/>
<rect x="417.94" y="2108.85" width="73.45" height="18.85" fill="#f6b0b0"/>
<rect x="491.08" y="2108.85" width="73.45" height="18.85" fill="#eb6060"/>
<rect x="564.23" y="2108.85" width="73.45" height="18.85" fill="#545eae"/>
<rect x="637.37" y="2108.85" width="73.45" height="18.85" fill="#e64848"/>
<rect x="710.52" y="2108.85" width="73.45" height="18.85" fill="#f6b0b0"/>
<rect x="783.66" y="2108.85" width="73.45" height="18.85" fill="#ed7272"/>
<rect x="856.81" y="2108.85" width="73.45" height="18.85" fill="#ee7c7c"/>
<rect x="929.95" y="2108.85" width="73.45" height="18.85" fill="#f8c4c4"/>
<rect x="198.5" y="2127.4" width="73.45" height="18.85" fill="#4e5aac"/>
<rect x="271.65" y="2127.4" width="73.45" height="18.85" fill="#f4a0a0"/>
<rect x="344.79" y="2127.4" width="73.45" height="18.85" fill="#5a62b0"/>
<rect x="417.94" y="2127.4" width="73.45" height="18.85" fill="#545eae"/>
<rect x="491.08" y="2127.4" width="73.45" height="18.85" fill="#9a98ce"/>
<rect x="564.23" y="2127.4" width="73.45" height="18.85" fill="#4958ab"/>
<rect x="637.37" y="2127.4" width="73.45" height="18.85" fill="#e13936"/>
<rect x="710.52" y="2127.4" width="73.45" height="18.85" fill="#e64848"/>
<rect x="783.66" y="2127.4" width="73.45" height="18.85" fill="#666cb6"/>
<rect x="856.81" y="2127.4" width="73.45" height="18.85" fill="#f6b0b0"/>
<rect x="929.95" y="2127.4" width="73.45" height="18.85" fill="#f4a0a0"/>
<rect x="198.5" y="2145.95" width="73.45" height="18.85" fill="#f09090"/>
<rect x="271.65" y="2145.95" width="73.45" height="18.85" fill="#8686c4"/>
<rect x="344.79" y="2145.95" width="73.45" height="18.85" fill="#7076ba"/>
<rect x="417.94" y="2145.95" width="73.45" height="18.85" fill="#aeacd8"/>
<rect x="491.08" y="2145.95" width="73.45" height="18.85" fill="#a6a4d4"/>
<rect x="564.23" y="2145.95" width="73.45" height="18.85" fill="#7f81c1"/>
<rect x="637.37" y="2145.95" width="73.45" height="18.85" fill="#f4a0a0"/>
<rect x="710.52" y="2145.95" width="73.45" height="18.85" fill="#a6a4d4"/>
<rect x="783.66" y="2145.95" width="73.45" height="18.85" fill="#9392cb"/>
<rect x="856.81" y="2145.95" width="73.45" height="18.85" fill="#8686c4"/>
<rect x="929.95" y="2145.95" width="73.45" height="18.85" fill="#8686c4"/>
</g>
<text x="1002.9" y="2071.8" font-size="19.33">Bert_2013_HUVEC_Active_NCIDOE</text>
<text x="1002.9" y="2089.96" font-size="19.33">Bert_2013_HUVEC_PFKFB3oe_Active_DouleOE</text>
<text x="1002.9" y="2108.12" font-size="19.33">Paola_2018_LNCaP_Active_NOTCH1OE</text>
<text x="1002.9" y="2126.28" font-size="19.33">Paola_2018_PC3_Active_NOTCH1OE</text>
<text x="1002.9" y="2144.44" font-size="19.33">Annelynn_2014_CD34+thymocytes_Activate_OP9-DLL1</text>
<text x="1002.9" y="2162.6" font-size="19.33">Annelynn_2019_CD34+thymocytes_Activate_OP9-DLL1</text>
<text font-size="19.4" text-anchor="end" transform="translate(251.07 2176.7) rotate(-30)">DANG_MYC_TARGETS_DN</text>
<text font-size="19.4" text-anchor="end" transform="translate(324.22 2176.7) rotate(-30)">DANG_REGULATED_BY_MYC_DN</text>
<text font-size="19.4" text-anchor="end" transform="translate(397.36 2176.7) rotate(-30)">LEE_LIVER_CANCER_MYC_DN</text>
<text font-size="19.4" text-anchor="end" transform="translate(470.51 2176.7) rotate(-30)">ELLWOOD_MYC_TARGETS_DN</text>
<text font-size="19.4" text-anchor="end" transform="translate(543.65 2176.7) rotate(-30)">LEE_LIVER_CANCER_MYC_UP</text>
<text font-size="19.4" text-anchor="end" transform="translate(616.8 2176.7) rotate(-30)">YU_MYC_TARGETS_DN</text>
<text font-size="19.4" text-anchor="end" transform="translate(689.95 2176.7) rotate(-30)">SCHUHMACHER_MYC_TARGETS_UP</text>
<text font-size="19.4" text-anchor="end" transform="translate(763.09 2176.7) rotate(-30)">COLLER_MYC_TARGETS_UP</text>
<text font-size="19.4" text-anchor="end" transform="translate(836.24 2176.7) rotate(-30)">YU_MYC_TARGETS_UP</text>
<text font-size="19.4" text-anchor="end" transform="translate(909.38 2176.7) rotate(-30)">DANG_MYC_TARGETS_UP</text>
<text font-size="19.4" text-anchor="end" transform="translate(982.53 2176.7) rotate(-30)">DANG_REGULATED_BY_MYC_UP</text>
<path d="M194.1 2062.47H185.3V2081.02H194.1M185.3 2071.75H164.5V2099.57H194.1M194.1 2118.12H175.5V2136.68H194.1M175.5 2127.4H170.4V2155.22H194.1M164.5 2085.66H161.3V2141.31H170.4" fill="none" stroke="#000" stroke-width="1.5"/>
<path d="M381.36 2045.2V2039.8H454.51V2045.2M308.22 2045.2V2034.5H417.94V2039.8M527.65 2045.2V2031.9H600.8V2045.2M363.08 2034.5V2027.8H564.23V2031.9M235.07 2045.2V2025.9H463.65V2027.8M673.95 2045.2V2035.4H747.09V2045.2M893.38 2045.2V2041.1H966.53V2045.2M820.24 2045.2V2033.5H929.95V2041.1M710.52 2035.4V2021.2H875.1V2033.5M349.36 2025.9V2014H792.81V2021.2" fill="none" stroke="#000" stroke-width="1.5"/>
<defs><linearGradient id="gF" x1="0" y1="0" x2="0" y2="1"><stop offset="0%" stop-color="#da241c"/><stop offset="3.14%" stop-color="#dc2a22"/><stop offset="9.43%" stop-color="#e44040"/><stop offset="15.71%" stop-color="#ea5858"/><stop offset="19.9%" stop-color="#ec6868"/><stop offset="24.09%" stop-color="#ee7c7c"/><stop offset="28.28%" stop-color="#f09090"/><stop offset="32.47%" stop-color="#f4a0a0"/><stop offset="36.66%" stop-color="#f6b0b0"/><stop offset="40.85%" stop-color="#f8c4c4"/><stop offset="42.94%" stop-color="#f8cccc"/><stop offset="51.32%" stop-color="#ffffff"/><stop offset="57.41%" stop-color="#d8d6ee"/><stop offset="60.45%" stop-color="#c8c6e6"/><stop offset="63.49%" stop-color="#b6b4dc"/><stop offset="66.53%" stop-color="#a6a4d4"/><stop offset="69.58%" stop-color="#9a98ce"/><stop offset="74.14%" stop-color="#8686c4"/><stop offset="77.18%" stop-color="#787cbe"/><stop offset="80.22%" stop-color="#7076ba"/><stop offset="83.27%" stop-color="#666cb6"/><stop offset="86.31%" stop-color="#5a62b0"/><stop offset="89.35%" stop-color="#4e5aac"/><stop offset="93.92%" stop-color="#3e54a8"/><stop offset="96.96%" stop-color="#3250a7"/><stop offset="100%" stop-color="#294ea6"/></linearGradient></defs>
<rect x="1509.5" y="2056.9" width="27.8" height="140.1" fill="url(#gF)"/>
<line x1="1509.5" y1="2069.7" x2="1515.1" y2="2069.7" stroke="#fff" stroke-width="1.1"/>
<line x1="1531.7" y1="2069.7" x2="1537.3" y2="2069.7" stroke="#fff" stroke-width="1.1"/>
<line x1="1509.5" y1="2100.2" x2="1515.1" y2="2100.2" stroke="#fff" stroke-width="1.1"/>
<line x1="1531.7" y1="2100.2" x2="1537.3" y2="2100.2" stroke="#fff" stroke-width="1.1"/>
<line x1="1509.5" y1="2128.8" x2="1515.1" y2="2128.8" stroke="#fff" stroke-width="1.1"/>
<line x1="1531.7" y1="2128.8" x2="1537.3" y2="2128.8" stroke="#fff" stroke-width="1.1"/>
<line x1="1509.5" y1="2159.4" x2="1515.1" y2="2159.4" stroke="#fff" stroke-width="1.1"/>
<line x1="1531.7" y1="2159.4" x2="1537.3" y2="2159.4" stroke="#fff" stroke-width="1.1"/>
<line x1="1509.5" y1="2189.5" x2="1515.1" y2="2189.5" stroke="#fff" stroke-width="1.1"/>
<line x1="1531.7" y1="2189.5" x2="1537.3" y2="2189.5" stroke="#fff" stroke-width="1.1"/>
<text x="1547.4" y="2073.9" font-size="19.2">2</text>
<text x="1547.4" y="2103.6" font-size="19.2">1</text>
<text x="1547.4" y="2133.4" font-size="19.2">0</text>
<text x="1547.4" y="2163.4" font-size="19.2">-1</text>
<text x="1547.4" y="2193.2" font-size="19.2">-2</text>
<text x="1509" y="2042.2" font-size="19.2">NES</text>
<text x="127.8" y="2031" font-size="32.5" font-weight="bold">F</text>
</svg>
</body></html>
